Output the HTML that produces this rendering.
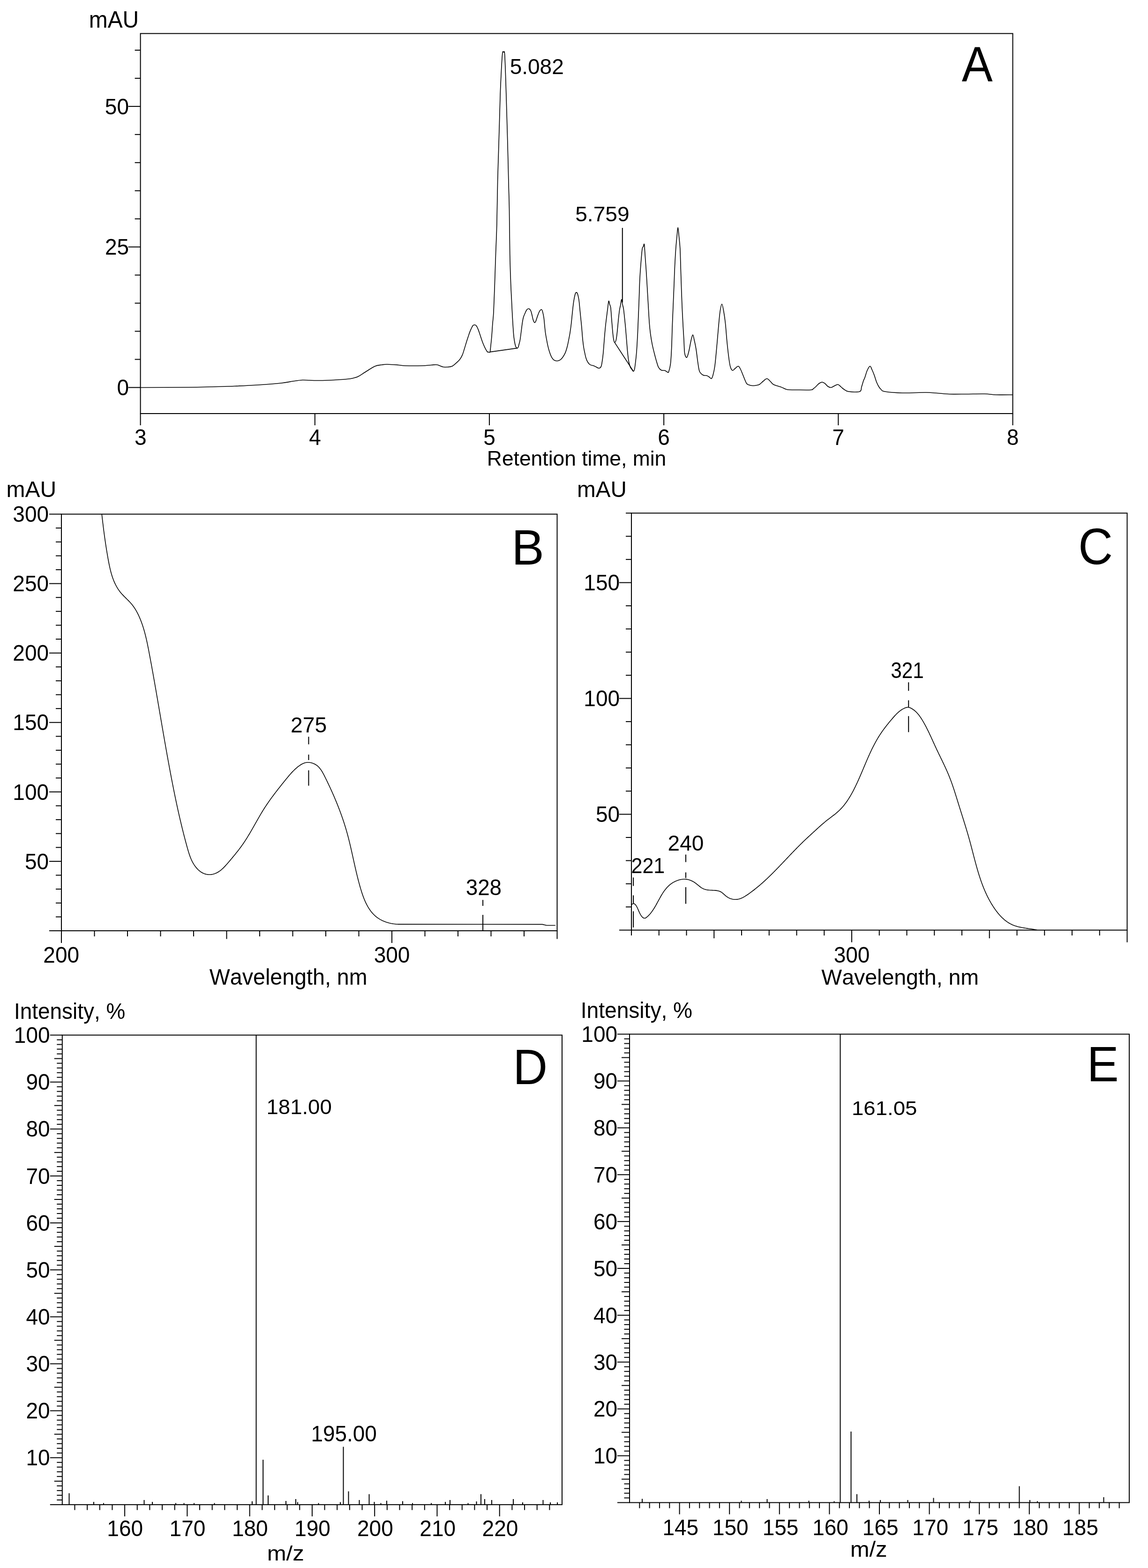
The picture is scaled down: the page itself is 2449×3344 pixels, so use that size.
<!DOCTYPE html>
<html><head><meta charset="utf-8"><title>Chromatogram, UV and MS spectra</title>
<style>html,body{margin:0;padding:0;background:#fff;}svg{display:block;}svg text{font-kerning:none;font-feature-settings:'kern' 0;}</style></head>
<body>
<svg width="2449" height="3344" viewBox="0 0 2449 3344" font-family="'Liberation Sans', Arial, sans-serif" fill="#000">
<rect width="2449" height="3344" fill="#fff"/>
<rect x="299.60" y="71.50" width="1860.90" height="810.50" fill="none" stroke="#000" stroke-width="2.0"/>
<line x1="273.60" y1="826.40" x2="299.60" y2="826.40" stroke="#000" stroke-width="2.0"/>
<line x1="287.60" y1="766.45" x2="299.60" y2="766.45" stroke="#000" stroke-width="2.0"/>
<line x1="287.60" y1="706.50" x2="299.60" y2="706.50" stroke="#000" stroke-width="2.0"/>
<line x1="287.60" y1="646.55" x2="299.60" y2="646.55" stroke="#000" stroke-width="2.0"/>
<line x1="287.60" y1="586.60" x2="299.60" y2="586.60" stroke="#000" stroke-width="2.0"/>
<line x1="273.60" y1="526.65" x2="299.60" y2="526.65" stroke="#000" stroke-width="2.0"/>
<line x1="287.60" y1="466.70" x2="299.60" y2="466.70" stroke="#000" stroke-width="2.0"/>
<line x1="287.60" y1="406.75" x2="299.60" y2="406.75" stroke="#000" stroke-width="2.0"/>
<line x1="287.60" y1="346.80" x2="299.60" y2="346.80" stroke="#000" stroke-width="2.0"/>
<line x1="287.60" y1="286.85" x2="299.60" y2="286.85" stroke="#000" stroke-width="2.0"/>
<line x1="273.60" y1="226.90" x2="299.60" y2="226.90" stroke="#000" stroke-width="2.0"/>
<line x1="287.60" y1="166.95" x2="299.60" y2="166.95" stroke="#000" stroke-width="2.0"/>
<line x1="287.60" y1="107.00" x2="299.60" y2="107.00" stroke="#000" stroke-width="2.0"/>
<text transform="translate(249.41,843.10) scale(1,1.0400)" font-size="46.00">0</text>
<text transform="translate(223.97,543.35) scale(1,1.0400)" font-size="46.00">25</text>
<text transform="translate(223.83,243.60) scale(1,1.0400)" font-size="46.00">50</text>
<line x1="299.60" y1="882.00" x2="299.60" y2="907.00" stroke="#000" stroke-width="2.0"/>
<text transform="translate(286.94,949.39) scale(1,1.0400)" font-size="46.00">3</text>
<line x1="671.78" y1="882.00" x2="671.78" y2="907.00" stroke="#000" stroke-width="2.0"/>
<text transform="translate(659.13,949.39) scale(1,1.0400)" font-size="46.00">4</text>
<line x1="1043.96" y1="882.00" x2="1043.96" y2="907.00" stroke="#000" stroke-width="2.0"/>
<text transform="translate(1031.21,949.39) scale(1,1.0400)" font-size="46.00">5</text>
<line x1="1416.14" y1="882.00" x2="1416.14" y2="907.00" stroke="#000" stroke-width="2.0"/>
<text transform="translate(1403.19,949.39) scale(1,1.0400)" font-size="46.00">6</text>
<line x1="1788.32" y1="882.00" x2="1788.32" y2="907.00" stroke="#000" stroke-width="2.0"/>
<text transform="translate(1775.51,949.39) scale(1,1.0400)" font-size="46.00">7</text>
<line x1="2160.50" y1="882.00" x2="2160.50" y2="907.00" stroke="#000" stroke-width="2.0"/>
<text transform="translate(2147.71,949.39) scale(1,1.0400)" font-size="46.00">8</text>
<text transform="translate(189.82,58.50) scale(1,1.0400)" font-size="47.87">mAU</text>
<text transform="translate(1038.86,992.50) scale(1,1.0066)" font-size="44.40">Retention time, min</text>
<text transform="translate(2051.81,172.50) scale(1,1.0741)" font-size="98.78">A</text>
<text transform="translate(1087.66,158.00) scale(1,1.0118)" font-size="46.02">5.082</text>
<text transform="translate(1227.15,471.50) scale(1,0.9620)" font-size="46.17">5.759</text>
<path d="M300.60,826.50 C317.17,826.42 375.10,826.25 400.00,826.00 C424.90,825.75 433.33,825.42 450.00,825.00 C466.67,824.58 483.33,824.17 500.00,823.50 C516.67,822.83 533.33,822.08 550.00,821.00 C566.67,819.92 587.50,818.33 600.00,817.00 C612.50,815.67 617.50,814.08 625.00,813.00 C632.50,811.92 639.17,810.83 645.00,810.50 C650.83,810.17 655.00,810.83 660.00,811.00 C665.00,811.17 668.33,811.50 675.00,811.50 C681.67,811.50 689.17,811.50 700.00,811.00 C710.83,810.50 730.83,809.33 740.00,808.50 C749.17,807.67 750.83,807.00 755.00,806.00 C759.17,805.00 760.83,804.67 765.00,802.50 C769.17,800.33 774.17,796.58 780.00,793.00 C785.83,789.42 794.17,783.50 800.00,781.00 C805.83,778.50 810.67,778.67 815.00,778.00 C819.33,777.33 820.17,776.92 826.00,777.00 C831.83,777.08 843.50,778.00 850.00,778.50 C856.50,779.00 856.67,779.75 865.00,780.00 C873.33,780.25 890.83,780.25 900.00,780.00 C909.17,779.75 914.58,778.83 920.00,778.50 C925.42,778.17 928.33,777.33 932.50,778.00 C936.67,778.67 941.33,781.72 945.00,782.50 C948.67,783.28 951.33,782.90 954.50,782.70 C957.67,782.50 960.97,782.63 964.00,781.30 C967.03,779.97 969.92,777.12 972.70,774.70 C975.48,772.28 978.40,769.82 980.70,766.80 C983.00,763.78 984.82,760.48 986.50,756.60 C988.18,752.72 989.35,748.10 990.80,743.50 C992.25,738.90 993.87,733.23 995.20,729.00 C996.53,724.77 997.72,721.37 998.80,718.10 C999.88,714.83 1000.60,712.30 1001.70,709.40 C1002.80,706.50 1004.18,703.25 1005.40,700.70 C1006.62,698.15 1007.80,695.42 1009.00,694.10 C1010.20,692.78 1011.38,692.67 1012.60,692.80 C1013.82,692.93 1015.08,693.35 1016.30,694.90 C1017.52,696.45 1018.70,699.20 1019.90,702.10 C1021.10,705.00 1022.30,708.78 1023.50,712.30 C1024.70,715.82 1025.88,719.70 1027.10,723.20 C1028.32,726.70 1029.58,730.28 1030.80,733.30 C1032.02,736.32 1033.20,738.87 1034.40,741.30 C1035.60,743.73 1037.02,746.32 1038.00,747.90 C1038.98,749.48 1039.47,750.28 1040.30,750.80 C1041.13,751.32 1042.17,751.03 1043.00,751.00 C1043.83,750.97 1044.65,752.85 1045.30,750.60 C1045.95,748.35 1046.30,742.97 1046.90,737.50 C1047.50,732.03 1048.23,725.72 1048.90,717.80 C1049.57,709.88 1050.22,698.72 1050.90,690.00 C1051.58,681.28 1052.25,679.83 1053.00,665.50 C1053.75,651.17 1054.65,624.58 1055.40,604.00 C1056.15,583.42 1056.77,562.67 1057.50,542.00 C1058.23,521.33 1059.12,506.00 1059.80,480.00 C1060.48,454.00 1060.98,412.00 1061.60,386.00 C1062.22,360.00 1062.87,344.67 1063.50,324.00 C1064.13,303.33 1064.78,282.67 1065.40,262.00 C1066.02,241.33 1066.52,218.67 1067.20,200.00 C1067.88,181.33 1068.82,163.33 1069.50,150.00 C1070.18,136.67 1070.80,126.58 1071.30,120.00 C1071.80,113.42 1071.97,111.92 1072.50,110.50 C1073.03,109.08 1073.83,110.92 1074.50,111.50 C1075.17,112.08 1075.83,105.92 1076.50,114.00 C1077.17,122.08 1077.77,139.50 1078.50,160.00 C1079.23,180.50 1080.20,213.83 1080.90,237.00 C1081.60,260.17 1082.18,280.33 1082.70,299.00 C1083.22,317.67 1083.58,332.42 1084.00,349.00 C1084.42,365.58 1084.78,382.00 1085.20,398.50 C1085.62,415.00 1086.08,424.08 1086.50,448.00 C1086.92,471.92 1087.18,516.00 1087.70,542.00 C1088.22,568.00 1088.98,587.50 1089.60,604.00 C1090.22,620.50 1090.80,628.95 1091.40,641.00 C1092.00,653.05 1092.50,664.37 1093.20,676.30 C1093.90,688.23 1094.88,704.07 1095.60,712.60 C1096.32,721.13 1096.80,723.28 1097.50,727.50 C1098.20,731.72 1099.05,735.52 1099.80,737.90 C1100.55,740.28 1101.37,741.02 1102.00,741.80 C1102.63,742.58 1103.02,742.82 1103.60,742.60 C1104.18,742.38 1104.85,742.10 1105.50,740.50 C1106.15,738.90 1106.83,735.63 1107.50,733.00 C1108.17,730.37 1108.75,729.20 1109.50,724.70 C1110.25,720.20 1111.20,712.05 1112.00,706.00 C1112.80,699.95 1113.55,693.23 1114.30,688.40 C1115.05,683.57 1115.63,680.18 1116.50,677.00 C1117.37,673.82 1118.30,672.00 1119.50,669.30 C1120.70,666.60 1122.28,662.63 1123.70,660.80 C1125.12,658.97 1126.58,658.02 1128.00,658.30 C1129.42,658.58 1131.08,660.38 1132.20,662.50 C1133.32,664.62 1133.85,667.75 1134.70,671.00 C1135.55,674.25 1136.37,679.17 1137.30,682.00 C1138.23,684.83 1139.32,687.57 1140.30,688.00 C1141.28,688.43 1142.15,686.87 1143.20,684.60 C1144.25,682.33 1145.33,677.80 1146.60,674.40 C1147.87,671.00 1149.38,666.60 1150.80,664.20 C1152.22,661.80 1153.97,659.85 1155.10,660.00 C1156.23,660.15 1156.75,662.13 1157.60,665.10 C1158.45,668.07 1159.48,672.87 1160.20,677.80 C1160.92,682.73 1161.33,689.33 1161.90,694.70 C1162.47,700.07 1162.90,705.05 1163.60,710.00 C1164.30,714.95 1165.27,719.88 1166.10,724.40 C1166.93,728.92 1167.62,732.87 1168.60,737.10 C1169.58,741.33 1170.72,745.85 1172.00,749.80 C1173.28,753.75 1174.73,757.83 1176.30,760.80 C1177.87,763.77 1179.43,766.12 1181.40,767.60 C1183.37,769.08 1185.85,769.70 1188.10,769.70 C1190.35,769.70 1192.92,768.80 1194.90,767.60 C1196.88,766.40 1198.17,765.03 1200.00,762.50 C1201.83,759.97 1204.20,756.35 1205.90,752.40 C1207.60,748.45 1208.92,743.75 1210.20,738.80 C1211.48,733.85 1212.62,727.63 1213.60,722.70 C1214.58,717.77 1215.27,714.57 1216.10,709.20 C1216.93,703.83 1217.75,697.85 1218.60,690.50 C1219.45,683.15 1220.35,672.87 1221.20,665.10 C1222.05,657.33 1222.72,650.27 1223.70,643.90 C1224.68,637.53 1226.10,630.28 1227.10,626.90 C1228.10,623.52 1228.85,623.60 1229.70,623.60 C1230.55,623.60 1231.32,624.17 1232.20,626.90 C1233.08,629.63 1234.25,635.10 1235.00,640.00 C1235.75,644.90 1236.07,650.07 1236.70,656.30 C1237.33,662.53 1238.10,670.38 1238.80,677.40 C1239.50,684.42 1240.20,690.68 1240.90,698.40 C1241.60,706.12 1242.30,716.68 1243.00,723.70 C1243.70,730.72 1244.33,735.58 1245.10,740.50 C1245.87,745.42 1246.75,749.27 1247.60,753.20 C1248.45,757.13 1249.22,761.02 1250.20,764.10 C1251.18,767.18 1252.10,769.45 1253.50,771.70 C1254.90,773.95 1256.07,776.07 1258.60,777.60 C1261.13,779.13 1265.62,779.63 1268.70,780.90 C1271.78,782.17 1274.85,785.05 1277.10,785.20 C1279.35,785.35 1280.93,784.33 1282.20,781.80 C1283.47,779.27 1283.93,774.77 1284.70,770.00 C1285.47,765.23 1286.17,759.52 1286.80,753.20 C1287.43,746.88 1287.93,739.12 1288.50,732.10 C1289.07,725.08 1289.57,718.12 1290.20,711.10 C1290.83,704.08 1291.60,696.32 1292.30,690.00 C1293.00,683.68 1293.70,678.82 1294.40,673.20 C1295.10,667.58 1295.80,661.50 1296.50,656.30 C1297.20,651.10 1297.90,643.12 1298.60,642.00 C1299.30,640.88 1300.00,647.22 1300.70,649.60 C1301.40,651.98 1302.17,651.67 1302.80,656.30 C1303.43,660.93 1303.93,670.38 1304.50,677.40 C1305.07,684.42 1305.65,692.08 1306.20,698.40 C1306.75,704.72 1307.25,710.67 1307.80,715.30 C1308.35,719.93 1308.93,723.68 1309.50,726.20 C1310.07,728.72 1310.42,730.53 1311.20,730.40 C1311.98,730.27 1313.35,728.62 1314.20,725.40 C1315.05,722.18 1315.67,716.30 1316.30,711.10 C1316.93,705.90 1317.45,699.82 1318.00,694.20 C1318.55,688.58 1318.98,683.02 1319.60,677.40 C1320.22,671.78 1321.00,665.00 1321.70,660.50 C1322.40,656.00 1323.10,654.05 1323.80,650.40 C1324.50,646.75 1325.18,638.73 1325.90,638.60 C1326.62,638.47 1327.38,646.23 1328.10,649.60 C1328.82,652.97 1329.50,654.17 1330.20,658.80 C1330.90,663.43 1331.60,670.80 1332.30,677.40 C1333.00,684.00 1333.70,690.68 1334.40,698.40 C1335.10,706.12 1335.80,715.28 1336.50,723.70 C1337.20,732.12 1337.83,741.18 1338.60,748.90 C1339.37,756.62 1340.12,764.38 1341.10,770.00 C1342.08,775.62 1343.38,779.65 1344.50,782.60 C1345.62,785.55 1346.68,786.15 1347.80,787.70 C1348.92,789.25 1350.22,792.05 1351.20,791.90 C1352.18,791.75 1352.90,790.45 1353.70,786.80 C1354.50,783.15 1355.27,776.33 1356.00,770.00 C1356.73,763.67 1357.38,758.62 1358.10,748.80 C1358.82,738.98 1359.67,723.67 1360.30,711.10 C1360.93,698.53 1361.38,685.95 1361.90,673.40 C1362.42,660.85 1362.98,647.10 1363.40,635.80 C1363.82,624.50 1364.03,614.40 1364.40,605.60 C1364.77,596.80 1365.02,591.78 1365.60,583.00 C1366.18,574.22 1367.15,561.68 1367.90,552.90 C1368.65,544.12 1369.35,534.82 1370.10,530.30 C1370.85,525.78 1371.68,527.32 1372.40,525.80 C1373.12,524.28 1373.77,517.95 1374.40,521.20 C1375.03,524.45 1375.53,536.25 1376.20,545.30 C1376.87,554.35 1377.65,564.18 1378.40,575.50 C1379.15,586.82 1379.95,600.65 1380.70,613.20 C1381.45,625.75 1382.15,638.25 1382.90,650.80 C1383.65,663.35 1384.43,678.45 1385.20,688.50 C1385.97,698.55 1386.50,703.57 1387.50,711.10 C1388.50,718.63 1389.82,726.67 1391.20,733.70 C1392.58,740.73 1394.28,747.27 1395.80,753.30 C1397.32,759.33 1398.80,764.88 1400.30,769.90 C1401.80,774.92 1403.05,780.13 1404.80,783.40 C1406.55,786.67 1408.53,788.37 1410.80,789.50 C1413.07,790.63 1416.13,789.45 1418.40,790.20 C1420.67,790.95 1423.03,793.62 1424.40,794.00 C1425.77,794.38 1425.60,795.52 1426.60,792.50 C1427.60,789.48 1429.38,784.45 1430.40,775.90 C1431.42,767.35 1432.07,754.52 1432.70,741.20 C1433.33,727.88 1433.63,711.07 1434.20,696.00 C1434.77,680.93 1435.47,665.87 1436.10,650.80 C1436.73,635.73 1437.43,619.40 1438.00,605.60 C1438.57,591.80 1438.88,580.55 1439.50,568.00 C1440.12,555.45 1440.95,540.85 1441.70,530.30 C1442.45,519.75 1443.25,512.23 1444.00,504.70 C1444.75,497.17 1445.45,485.10 1446.20,485.10 C1446.95,485.10 1447.73,497.17 1448.50,504.70 C1449.27,512.23 1450.17,518.50 1450.80,530.30 C1451.43,542.10 1451.80,560.43 1452.30,575.50 C1452.80,590.57 1453.30,606.88 1453.80,620.70 C1454.30,634.52 1454.73,645.85 1455.30,658.40 C1455.87,670.95 1456.58,684.70 1457.20,696.00 C1457.82,707.30 1458.43,716.65 1459.00,726.20 C1459.57,735.75 1459.58,747.28 1460.60,753.30 C1461.62,759.32 1463.60,763.05 1465.10,762.30 C1466.60,761.55 1468.10,754.82 1469.60,748.80 C1471.10,742.78 1472.72,731.98 1474.10,726.20 C1475.48,720.42 1476.75,714.30 1477.90,714.10 C1479.05,713.90 1479.82,719.85 1481.00,725.00 C1482.18,730.15 1483.67,736.67 1485.00,745.00 C1486.33,753.33 1487.75,767.08 1489.00,775.00 C1490.25,782.92 1490.67,788.33 1492.50,792.50 C1494.33,796.67 1497.50,798.58 1500.00,800.00 C1502.50,801.42 1505.33,800.33 1507.50,801.00 C1509.67,801.67 1511.33,802.92 1513.00,804.00 C1514.67,805.08 1516.17,808.17 1517.50,807.50 C1518.83,806.83 1519.75,804.58 1521.00,800.00 C1522.25,795.42 1523.67,790.00 1525.00,780.00 C1526.33,770.00 1527.75,753.33 1529.00,740.00 C1530.25,726.67 1531.33,712.50 1532.50,700.00 C1533.67,687.50 1534.75,673.58 1536.00,665.00 C1537.25,656.42 1538.67,648.50 1540.00,648.50 C1541.33,648.50 1542.75,658.08 1544.00,665.00 C1545.25,671.92 1546.33,679.17 1547.50,690.00 C1548.67,700.83 1549.75,717.50 1551.00,730.00 C1552.25,742.50 1553.83,756.33 1555.00,765.00 C1556.17,773.67 1556.75,777.83 1558.00,782.00 C1559.25,786.17 1560.83,789.33 1562.50,790.00 C1564.17,790.67 1565.92,787.50 1568.00,786.00 C1570.08,784.50 1573.00,780.67 1575.00,781.00 C1577.00,781.33 1578.33,784.83 1580.00,788.00 C1581.67,791.17 1582.92,795.08 1585.00,800.00 C1587.08,804.92 1590.33,814.00 1592.50,817.50 C1594.67,821.00 1595.92,820.17 1598.00,821.00 C1600.08,821.83 1602.67,822.33 1605.00,822.50 C1607.33,822.67 1609.50,822.42 1612.00,822.00 C1614.50,821.58 1617.33,821.50 1620.00,820.00 C1622.67,818.50 1625.33,815.08 1628.00,813.00 C1630.67,810.92 1633.50,807.50 1636.00,807.50 C1638.50,807.50 1640.67,810.92 1643.00,813.00 C1645.33,815.08 1646.33,818.00 1650.00,820.00 C1653.67,822.00 1661.33,823.67 1665.00,825.00 C1668.67,826.33 1669.50,827.00 1672.00,828.00 C1674.50,829.00 1675.33,830.42 1680.00,831.00 C1684.67,831.58 1691.67,831.42 1700.00,831.50 C1708.33,831.58 1724.17,831.92 1730.00,831.50 C1735.83,831.08 1733.33,830.08 1735.00,829.00 C1736.67,827.92 1738.00,826.83 1740.00,825.00 C1742.00,823.17 1744.67,819.67 1747.00,818.00 C1749.33,816.33 1751.83,815.00 1754.00,815.00 C1756.17,815.00 1758.00,816.50 1760.00,818.00 C1762.00,819.50 1763.92,822.58 1766.00,824.00 C1768.08,825.42 1770.17,826.67 1772.50,826.50 C1774.83,826.33 1777.50,824.08 1780.00,823.00 C1782.50,821.92 1785.17,819.67 1787.50,820.00 C1789.83,820.33 1791.92,823.33 1794.00,825.00 C1796.08,826.67 1797.33,828.33 1800.00,830.00 C1802.67,831.67 1804.33,834.17 1810.00,835.00 C1815.67,835.83 1829.33,836.67 1834.00,835.00 C1838.67,833.33 1836.67,828.83 1838.00,825.00 C1839.33,821.17 1840.83,815.33 1842.00,812.00 C1843.17,808.67 1843.67,808.67 1845.00,805.00 C1846.33,801.33 1848.17,794.00 1850.00,790.00 C1851.83,786.00 1854.33,781.33 1856.00,781.00 C1857.67,780.67 1858.50,784.83 1860.00,788.00 C1861.50,791.17 1863.33,795.50 1865.00,800.00 C1866.67,804.50 1868.33,810.83 1870.00,815.00 C1871.67,819.17 1873.33,822.33 1875.00,825.00 C1876.67,827.67 1877.92,829.33 1880.00,831.00 C1882.08,832.67 1880.00,833.83 1887.50,835.00 C1895.00,836.17 1910.42,837.67 1925.00,838.00 C1939.58,838.33 1962.50,836.92 1975.00,837.00 C1987.50,837.08 1991.67,837.92 2000.00,838.50 C2008.33,839.08 2015.00,840.17 2025.00,840.50 C2035.00,840.83 2047.50,840.58 2060.00,840.50 C2072.50,840.42 2089.17,839.75 2100.00,840.00 C2110.83,840.25 2115.08,841.67 2125.00,842.00 C2134.92,842.33 2153.75,842.00 2159.50,842.00" fill="none" stroke="#000" stroke-width="1.6" stroke-linejoin="round" stroke-linecap="round"/>
<line x1="1045.50" y1="750.60" x2="1103.80" y2="742.40" stroke="#000" stroke-width="1.7"/>
<line x1="1311.20" y1="730.40" x2="1351.20" y2="791.90" stroke="#000" stroke-width="1.7"/>
<line x1="1327.80" y1="486.00" x2="1327.80" y2="645.00" stroke="#000" stroke-width="2.0"/>
<rect x="131.00" y="1096.50" width="1057.50" height="888.50" fill="none" stroke="#000" stroke-width="2.0"/>
<line x1="105.00" y1="1985.00" x2="131.00" y2="1985.00" stroke="#000" stroke-width="2.0"/>
<line x1="119.00" y1="1955.38" x2="131.00" y2="1955.38" stroke="#000" stroke-width="2.0"/>
<line x1="119.00" y1="1925.77" x2="131.00" y2="1925.77" stroke="#000" stroke-width="2.0"/>
<line x1="119.00" y1="1896.15" x2="131.00" y2="1896.15" stroke="#000" stroke-width="2.0"/>
<line x1="119.00" y1="1866.53" x2="131.00" y2="1866.53" stroke="#000" stroke-width="2.0"/>
<line x1="105.00" y1="1836.92" x2="131.00" y2="1836.92" stroke="#000" stroke-width="2.0"/>
<line x1="119.00" y1="1807.30" x2="131.00" y2="1807.30" stroke="#000" stroke-width="2.0"/>
<line x1="119.00" y1="1777.68" x2="131.00" y2="1777.68" stroke="#000" stroke-width="2.0"/>
<line x1="119.00" y1="1748.07" x2="131.00" y2="1748.07" stroke="#000" stroke-width="2.0"/>
<line x1="119.00" y1="1718.45" x2="131.00" y2="1718.45" stroke="#000" stroke-width="2.0"/>
<line x1="105.00" y1="1688.83" x2="131.00" y2="1688.83" stroke="#000" stroke-width="2.0"/>
<line x1="119.00" y1="1659.22" x2="131.00" y2="1659.22" stroke="#000" stroke-width="2.0"/>
<line x1="119.00" y1="1629.60" x2="131.00" y2="1629.60" stroke="#000" stroke-width="2.0"/>
<line x1="119.00" y1="1599.98" x2="131.00" y2="1599.98" stroke="#000" stroke-width="2.0"/>
<line x1="119.00" y1="1570.37" x2="131.00" y2="1570.37" stroke="#000" stroke-width="2.0"/>
<line x1="105.00" y1="1540.75" x2="131.00" y2="1540.75" stroke="#000" stroke-width="2.0"/>
<line x1="119.00" y1="1511.13" x2="131.00" y2="1511.13" stroke="#000" stroke-width="2.0"/>
<line x1="119.00" y1="1481.52" x2="131.00" y2="1481.52" stroke="#000" stroke-width="2.0"/>
<line x1="119.00" y1="1451.90" x2="131.00" y2="1451.90" stroke="#000" stroke-width="2.0"/>
<line x1="119.00" y1="1422.28" x2="131.00" y2="1422.28" stroke="#000" stroke-width="2.0"/>
<line x1="105.00" y1="1392.67" x2="131.00" y2="1392.67" stroke="#000" stroke-width="2.0"/>
<line x1="119.00" y1="1363.05" x2="131.00" y2="1363.05" stroke="#000" stroke-width="2.0"/>
<line x1="119.00" y1="1333.43" x2="131.00" y2="1333.43" stroke="#000" stroke-width="2.0"/>
<line x1="119.00" y1="1303.82" x2="131.00" y2="1303.82" stroke="#000" stroke-width="2.0"/>
<line x1="119.00" y1="1274.20" x2="131.00" y2="1274.20" stroke="#000" stroke-width="2.0"/>
<line x1="105.00" y1="1244.58" x2="131.00" y2="1244.58" stroke="#000" stroke-width="2.0"/>
<line x1="119.00" y1="1214.97" x2="131.00" y2="1214.97" stroke="#000" stroke-width="2.0"/>
<line x1="119.00" y1="1185.35" x2="131.00" y2="1185.35" stroke="#000" stroke-width="2.0"/>
<line x1="119.00" y1="1155.73" x2="131.00" y2="1155.73" stroke="#000" stroke-width="2.0"/>
<line x1="119.00" y1="1126.12" x2="131.00" y2="1126.12" stroke="#000" stroke-width="2.0"/>
<line x1="105.00" y1="1096.50" x2="131.00" y2="1096.50" stroke="#000" stroke-width="2.0"/>
<text transform="translate(52.93,1853.61) scale(1,1.0400)" font-size="46.00">50</text>
<text transform="translate(27.35,1705.53) scale(1,1.0400)" font-size="46.00">100</text>
<text transform="translate(27.35,1557.45) scale(1,1.0400)" font-size="46.00">150</text>
<text transform="translate(27.35,1409.36) scale(1,1.0400)" font-size="46.00">200</text>
<text transform="translate(27.35,1261.28) scale(1,1.0400)" font-size="46.00">250</text>
<text transform="translate(27.35,1113.20) scale(1,1.0400)" font-size="46.00">300</text>
<line x1="131.00" y1="1985.00" x2="131.00" y2="2011.00" stroke="#000" stroke-width="2.0"/>
<line x1="201.50" y1="1985.00" x2="201.50" y2="1997.00" stroke="#000" stroke-width="2.0"/>
<line x1="272.00" y1="1985.00" x2="272.00" y2="1997.00" stroke="#000" stroke-width="2.0"/>
<line x1="342.50" y1="1985.00" x2="342.50" y2="1997.00" stroke="#000" stroke-width="2.0"/>
<line x1="413.00" y1="1985.00" x2="413.00" y2="1997.00" stroke="#000" stroke-width="2.0"/>
<line x1="483.50" y1="1985.00" x2="483.50" y2="2002.50" stroke="#000" stroke-width="2.0"/>
<line x1="554.00" y1="1985.00" x2="554.00" y2="1997.00" stroke="#000" stroke-width="2.0"/>
<line x1="624.50" y1="1985.00" x2="624.50" y2="1997.00" stroke="#000" stroke-width="2.0"/>
<line x1="695.00" y1="1985.00" x2="695.00" y2="1997.00" stroke="#000" stroke-width="2.0"/>
<line x1="765.50" y1="1985.00" x2="765.50" y2="1997.00" stroke="#000" stroke-width="2.0"/>
<line x1="836.00" y1="1985.00" x2="836.00" y2="2011.00" stroke="#000" stroke-width="2.0"/>
<line x1="906.50" y1="1985.00" x2="906.50" y2="1997.00" stroke="#000" stroke-width="2.0"/>
<line x1="977.00" y1="1985.00" x2="977.00" y2="1997.00" stroke="#000" stroke-width="2.0"/>
<line x1="1047.50" y1="1985.00" x2="1047.50" y2="1997.00" stroke="#000" stroke-width="2.0"/>
<line x1="1118.00" y1="1985.00" x2="1118.00" y2="1997.00" stroke="#000" stroke-width="2.0"/>
<line x1="1188.50" y1="1985.00" x2="1188.50" y2="2002.50" stroke="#000" stroke-width="2.0"/>
<text transform="translate(92.37,2053.39) scale(1,1.0400)" font-size="46.00">200</text>
<text transform="translate(797.65,2053.39) scale(1,1.0400)" font-size="46.00">300</text>
<text x="13.56" y="1059.75" font-size="47.99">mAU</text>
<text transform="translate(446.80,2099.50) scale(1,1.0447)" font-size="46.61">Wavelength, nm</text>
<text transform="translate(1091.15,1203.50) scale(1,1.0161)" font-size="104.28">B</text>
<text transform="translate(620.08,1562.20) scale(1,1.0143)" font-size="46.19">275</text>
<text transform="translate(993.66,1908.70) scale(1,1.0414)" font-size="45.81">328</text>
<path d="M217.24,1097.09 L217.47,1099.12 L217.70,1101.14 L217.93,1103.16 L218.16,1105.18 L218.39,1107.19 L218.63,1109.20 L218.86,1111.21 L219.10,1113.21 L219.33,1115.21 L219.57,1117.20 L219.82,1119.19 L220.06,1121.18 L220.30,1123.16 L220.55,1125.14 L220.80,1127.12 L221.05,1129.10 L221.30,1131.07 L221.56,1133.05 L221.81,1135.02 L222.07,1136.98 L222.34,1138.95 L222.60,1140.92 L222.87,1142.88 L223.14,1144.84 L223.41,1146.81 L223.69,1148.77 L223.96,1150.73 L224.25,1152.69 L224.53,1154.65 L224.82,1156.61 L225.11,1158.56 L225.40,1160.52 L225.70,1162.48 L226.00,1164.44 L226.31,1166.41 L226.61,1168.37 L226.93,1170.33 L227.24,1172.29 L227.56,1174.26 L227.88,1176.23 L228.21,1178.19 L228.54,1180.16 L228.88,1182.14 L229.21,1184.11 L229.56,1186.09 L229.91,1188.06 L230.26,1190.05 L230.61,1192.03 L230.98,1194.02 L231.34,1196.01 L231.72,1198.00 L232.10,1199.99 L232.49,1201.98 L232.89,1203.97 L233.30,1205.95 L233.72,1207.94 L234.15,1209.92 L234.60,1211.90 L235.06,1213.87 L235.54,1215.84 L236.03,1217.80 L236.54,1219.76 L237.07,1221.70 L237.62,1223.64 L238.19,1225.57 L238.78,1227.49 L239.39,1229.40 L240.02,1231.30 L240.68,1233.18 L241.37,1235.06 L242.08,1236.92 L242.81,1238.76 L243.58,1240.59 L244.37,1242.40 L245.20,1244.20 L246.05,1245.98 L246.94,1247.74 L247.86,1249.48 L248.81,1251.20 L249.80,1252.90 L250.82,1254.58 L251.88,1256.24 L252.98,1257.88 L254.12,1259.49 L255.30,1261.08 L256.51,1262.64 L257.77,1264.18 L259.07,1265.70 L260.40,1267.19 L261.76,1268.66 L263.15,1270.12 L264.56,1271.57 L265.98,1273.01 L267.41,1274.44 L268.85,1275.87 L270.29,1277.30 L271.73,1278.73 L273.17,1280.16 L274.59,1281.61 L275.99,1283.07 L277.37,1284.54 L278.73,1286.02 L280.05,1287.53 L281.34,1289.06 L282.59,1290.62 L283.81,1292.20 L284.98,1293.81 L286.12,1295.44 L287.23,1297.08 L288.30,1298.75 L289.34,1300.44 L290.35,1302.15 L291.33,1303.88 L292.28,1305.62 L293.21,1307.37 L294.10,1309.14 L294.98,1310.92 L295.82,1312.71 L296.65,1314.52 L297.46,1316.33 L298.24,1318.15 L299.00,1319.98 L299.75,1321.81 L300.48,1323.66 L301.19,1325.50 L301.88,1327.36 L302.56,1329.22 L303.21,1331.09 L303.86,1332.97 L304.48,1334.85 L305.10,1336.73 L305.69,1338.62 L306.28,1340.52 L306.85,1342.42 L307.40,1344.33 L307.95,1346.24 L308.48,1348.16 L309.00,1350.08 L309.51,1352.00 L310.00,1353.93 L310.49,1355.86 L310.97,1357.80 L311.43,1359.74 L311.89,1361.68 L312.34,1363.63 L312.78,1365.58 L313.21,1367.53 L313.64,1369.49 L314.06,1371.44 L314.47,1373.40 L314.88,1375.36 L315.28,1377.33 L315.67,1379.29 L316.07,1381.26 L316.45,1383.22 L316.84,1385.19 L317.22,1387.16 L317.60,1389.13 L317.97,1391.10 L318.35,1393.07 L318.72,1395.04 L319.09,1397.02 L319.46,1398.99 L319.83,1400.96 L320.20,1402.93 L320.57,1404.90 L320.94,1406.87 L321.30,1408.84 L321.67,1410.82 L322.03,1412.79 L322.40,1414.76 L322.76,1416.73 L323.12,1418.70 L323.48,1420.67 L323.84,1422.65 L324.20,1424.62 L324.56,1426.59 L324.91,1428.56 L325.27,1430.53 L325.63,1432.51 L325.98,1434.48 L326.34,1436.45 L326.69,1438.42 L327.04,1440.39 L327.39,1442.37 L327.74,1444.34 L328.10,1446.31 L328.45,1448.28 L328.79,1450.26 L329.14,1452.23 L329.49,1454.20 L329.84,1456.17 L330.19,1458.14 L330.53,1460.12 L330.88,1462.09 L331.22,1464.06 L331.57,1466.03 L331.91,1468.01 L332.26,1469.98 L332.60,1471.95 L332.94,1473.92 L333.29,1475.89 L333.63,1477.87 L333.97,1479.84 L334.31,1481.81 L334.65,1483.78 L334.99,1485.75 L335.33,1487.73 L335.68,1489.70 L336.01,1491.67 L336.35,1493.64 L336.69,1495.61 L337.03,1497.58 L337.37,1499.56 L337.71,1501.53 L338.05,1503.50 L338.39,1505.47 L338.73,1507.44 L339.06,1509.41 L339.40,1511.38 L339.74,1513.36 L340.08,1515.33 L340.42,1517.30 L340.75,1519.27 L341.09,1521.24 L341.43,1523.21 L341.77,1525.18 L342.10,1527.15 L342.44,1529.12 L342.78,1531.09 L343.12,1533.06 L343.45,1535.03 L343.79,1537.00 L344.13,1538.97 L344.47,1540.94 L344.81,1542.91 L345.14,1544.88 L345.48,1546.85 L345.82,1548.82 L346.16,1550.79 L346.50,1552.76 L346.84,1554.73 L347.18,1556.70 L347.52,1558.67 L347.86,1560.64 L348.20,1562.61 L348.54,1564.57 L348.88,1566.54 L349.22,1568.51 L349.56,1570.48 L349.91,1572.45 L350.25,1574.42 L350.59,1576.38 L350.93,1578.35 L351.28,1580.32 L351.62,1582.28 L351.97,1584.25 L352.31,1586.22 L352.66,1588.19 L353.00,1590.15 L353.35,1592.12 L353.70,1594.08 L354.05,1596.05 L354.40,1598.02 L354.74,1599.98 L355.09,1601.95 L355.44,1603.91 L355.80,1605.88 L356.15,1607.84 L356.50,1609.81 L356.85,1611.77 L357.21,1613.74 L357.56,1615.70 L357.92,1617.66 L358.27,1619.63 L358.63,1621.59 L358.99,1623.56 L359.35,1625.52 L359.71,1627.48 L360.07,1629.44 L360.43,1631.41 L360.79,1633.37 L361.15,1635.33 L361.52,1637.29 L361.88,1639.25 L362.25,1641.22 L362.61,1643.18 L362.98,1645.14 L363.35,1647.10 L363.72,1649.06 L364.09,1651.02 L364.46,1652.98 L364.84,1654.94 L365.21,1656.90 L365.58,1658.86 L365.96,1660.82 L366.34,1662.77 L366.72,1664.73 L367.10,1666.69 L367.48,1668.65 L367.86,1670.61 L368.24,1672.56 L368.63,1674.52 L369.01,1676.48 L369.40,1678.43 L369.79,1680.39 L370.18,1682.35 L370.57,1684.30 L370.96,1686.26 L371.36,1688.22 L371.75,1690.17 L372.15,1692.13 L372.55,1694.08 L372.95,1696.04 L373.36,1697.99 L373.76,1699.95 L374.17,1701.90 L374.57,1703.86 L374.98,1705.81 L375.39,1707.77 L375.81,1709.72 L376.22,1711.67 L376.64,1713.63 L377.06,1715.58 L377.48,1717.54 L377.90,1719.49 L378.33,1721.44 L378.75,1723.40 L379.18,1725.35 L379.61,1727.30 L380.05,1729.26 L380.48,1731.21 L380.92,1733.16 L381.36,1735.12 L381.80,1737.07 L382.25,1739.02 L382.69,1740.98 L383.14,1742.93 L383.59,1744.88 L384.05,1746.83 L384.50,1748.79 L384.96,1750.74 L385.42,1752.69 L385.89,1754.65 L386.35,1756.60 L386.82,1758.55 L387.29,1760.50 L387.77,1762.46 L388.24,1764.41 L388.72,1766.36 L389.20,1768.32 L389.69,1770.27 L390.18,1772.22 L390.67,1774.18 L391.16,1776.13 L391.65,1778.08 L392.15,1780.04 L392.65,1781.99 L393.16,1783.94 L393.67,1785.90 L394.18,1787.85 L394.69,1789.81 L395.21,1791.76 L395.73,1793.71 L396.25,1795.67 L396.78,1797.62 L397.31,1799.58 L397.84,1801.53 L398.37,1803.49 L398.91,1805.44 L399.45,1807.40 L400.00,1809.35 L400.56,1811.30 L401.12,1813.25 L401.69,1815.19 L402.28,1817.13 L402.88,1819.06 L403.50,1820.98 L404.14,1822.88 L404.80,1824.78 L405.49,1826.66 L406.20,1828.52 L406.94,1830.37 L407.72,1832.20 L408.52,1834.01 L409.36,1835.79 L410.24,1837.56 L411.16,1839.30 L412.12,1841.01 L413.12,1842.69 L414.17,1844.35 L415.26,1845.97 L416.41,1847.56 L417.61,1849.12 L418.87,1850.65 L420.18,1852.13 L421.55,1853.58 L422.98,1854.99 L424.47,1856.35 L426.02,1857.65 L427.63,1858.88 L429.29,1860.02 L431.00,1861.08 L432.76,1862.02 L434.57,1862.85 L436.41,1863.55 L438.30,1864.12 L440.21,1864.58 L442.14,1864.92 L444.09,1865.14 L446.04,1865.24 L448.00,1865.22 L449.94,1865.10 L451.87,1864.86 L453.78,1864.52 L455.67,1864.06 L457.51,1863.51 L459.32,1862.84 L461.09,1862.09 L462.83,1861.24 L464.52,1860.30 L466.19,1859.28 L467.82,1858.19 L469.43,1857.03 L471.00,1855.80 L472.55,1854.52 L474.07,1853.18 L475.57,1851.79 L477.05,1850.36 L478.50,1848.89 L479.94,1847.38 L481.35,1845.86 L482.75,1844.31 L484.14,1842.74 L485.51,1841.17 L486.87,1839.58 L488.22,1838.00 L489.56,1836.43 L490.89,1834.86 L492.22,1833.29 L493.53,1831.74 L494.84,1830.18 L496.14,1828.63 L497.42,1827.09 L498.70,1825.54 L499.98,1824.00 L501.24,1822.46 L502.49,1820.92 L503.74,1819.37 L504.97,1817.83 L506.20,1816.29 L507.41,1814.74 L508.62,1813.18 L509.82,1811.63 L511.01,1810.07 L512.19,1808.50 L513.36,1806.92 L514.52,1805.34 L515.67,1803.75 L516.81,1802.15 L517.94,1800.55 L519.06,1798.93 L520.17,1797.30 L521.27,1795.66 L522.36,1794.01 L523.45,1792.35 L524.52,1790.68 L525.59,1789.00 L526.65,1787.32 L527.70,1785.62 L528.75,1783.92 L529.78,1782.21 L530.82,1780.49 L531.85,1778.77 L532.87,1777.04 L533.89,1775.31 L534.90,1773.58 L535.91,1771.83 L536.91,1770.09 L537.92,1768.34 L538.92,1766.59 L539.92,1764.84 L540.91,1763.08 L541.91,1761.32 L542.90,1759.57 L543.89,1757.81 L544.89,1756.05 L545.88,1754.30 L546.87,1752.54 L547.87,1750.78 L548.86,1749.03 L549.86,1747.28 L550.86,1745.53 L551.86,1743.79 L552.87,1742.05 L553.88,1740.31 L554.89,1738.58 L555.91,1736.86 L556.93,1735.14 L557.96,1733.42 L558.99,1731.72 L560.03,1730.02 L561.07,1728.32 L562.12,1726.64 L563.18,1724.96 L564.25,1723.30 L565.32,1721.64 L566.40,1719.99 L567.49,1718.34 L568.58,1716.70 L569.68,1715.07 L570.79,1713.45 L571.90,1711.83 L573.02,1710.22 L574.15,1708.61 L575.28,1707.01 L576.42,1705.41 L577.57,1703.82 L578.72,1702.23 L579.88,1700.64 L581.05,1699.06 L582.22,1697.48 L583.39,1695.91 L584.58,1694.33 L585.77,1692.76 L586.96,1691.19 L588.16,1689.62 L589.37,1688.05 L590.58,1686.49 L591.80,1684.92 L593.02,1683.35 L594.25,1681.79 L595.49,1680.22 L596.73,1678.65 L597.97,1677.08 L599.22,1675.51 L600.48,1673.93 L601.74,1672.36 L603.00,1670.78 L604.27,1669.20 L605.55,1667.61 L606.83,1666.02 L608.11,1664.43 L609.40,1662.83 L610.70,1661.24 L612.00,1659.64 L613.31,1658.04 L614.63,1656.45 L615.96,1654.87 L617.30,1653.30 L618.66,1651.74 L620.02,1650.19 L621.40,1648.66 L622.80,1647.15 L624.21,1645.65 L625.64,1644.19 L627.09,1642.74 L628.56,1641.33 L630.04,1639.94 L631.55,1638.59 L633.09,1637.27 L634.64,1635.98 L636.22,1634.74 L637.83,1633.53 L639.46,1632.37 L641.12,1631.26 L642.81,1630.22 L644.53,1629.26 L646.28,1628.39 L648.05,1627.64 L649.86,1627.03 L651.69,1626.55 L653.55,1626.21 L655.42,1626.02 L657.31,1625.95 L659.19,1626.02 L661.08,1626.21 L662.95,1626.53 L664.80,1626.96 L666.63,1627.51 L668.42,1628.16 L670.18,1628.93 L671.89,1629.79 L673.54,1630.76 L675.14,1631.82 L676.67,1632.97 L678.13,1634.20 L679.52,1635.52 L680.84,1636.91 L682.11,1638.38 L683.32,1639.90 L684.48,1641.49 L685.60,1643.12 L686.67,1644.80 L687.71,1646.53 L688.72,1648.28 L689.70,1650.07 L690.66,1651.88 L691.60,1653.70 L692.52,1655.54 L693.44,1657.38 L694.35,1659.23 L695.26,1661.07 L696.16,1662.92 L697.06,1664.76 L697.95,1666.61 L698.84,1668.45 L699.72,1670.30 L700.60,1672.14 L701.47,1673.99 L702.34,1675.84 L703.20,1677.68 L704.06,1679.53 L704.91,1681.38 L705.76,1683.23 L706.61,1685.08 L707.44,1686.93 L708.27,1688.78 L709.10,1690.63 L709.92,1692.48 L710.74,1694.34 L711.55,1696.19 L712.35,1698.04 L713.15,1699.90 L713.94,1701.75 L714.73,1703.61 L715.51,1705.47 L716.29,1707.32 L717.06,1709.18 L717.83,1711.04 L718.59,1712.90 L719.34,1714.77 L720.08,1716.63 L720.83,1718.49 L721.56,1720.36 L722.29,1722.22 L723.01,1724.09 L723.73,1725.95 L724.44,1727.82 L725.14,1729.69 L725.84,1731.56 L726.53,1733.44 L727.21,1735.31 L727.89,1737.18 L728.56,1739.06 L729.23,1740.93 L729.89,1742.81 L730.54,1744.69 L731.18,1746.57 L731.82,1748.45 L732.45,1750.34 L733.08,1752.22 L733.70,1754.11 L734.31,1756.00 L734.91,1757.88 L735.51,1759.77 L736.10,1761.67 L736.68,1763.56 L737.26,1765.45 L737.83,1767.35 L738.39,1769.25 L738.94,1771.15 L739.49,1773.05 L740.03,1774.95 L740.56,1776.86 L741.08,1778.76 L741.60,1780.67 L742.11,1782.58 L742.62,1784.49 L743.12,1786.40 L743.61,1788.32 L744.09,1790.23 L744.58,1792.15 L745.05,1794.07 L745.52,1795.99 L745.99,1797.91 L746.45,1799.84 L746.91,1801.76 L747.37,1803.69 L747.82,1805.61 L748.27,1807.54 L748.71,1809.47 L749.15,1811.40 L749.59,1813.34 L750.03,1815.27 L750.47,1817.21 L750.90,1819.14 L751.33,1821.08 L751.76,1823.02 L752.19,1824.96 L752.62,1826.90 L753.05,1828.84 L753.48,1830.79 L753.91,1832.73 L754.34,1834.68 L754.77,1836.62 L755.21,1838.57 L755.64,1840.52 L756.08,1842.47 L756.51,1844.42 L756.95,1846.37 L757.39,1848.32 L757.84,1850.28 L758.28,1852.23 L758.73,1854.18 L759.19,1856.14 L759.64,1858.10 L760.10,1860.05 L760.57,1862.01 L761.04,1863.97 L761.51,1865.93 L761.99,1867.89 L762.48,1869.85 L762.97,1871.81 L763.46,1873.77 L763.97,1875.74 L764.47,1877.70 L764.99,1879.66 L765.51,1881.63 L766.04,1883.59 L766.58,1885.56 L767.12,1887.53 L767.67,1889.49 L768.23,1891.46 L768.80,1893.43 L769.38,1895.39 L769.97,1897.36 L770.57,1899.32 L771.18,1901.28 L771.80,1903.23 L772.44,1905.18 L773.10,1907.12 L773.76,1909.05 L774.45,1910.97 L775.15,1912.89 L775.87,1914.79 L776.61,1916.67 L777.37,1918.54 L778.16,1920.40 L778.96,1922.24 L779.79,1924.07 L780.64,1925.87 L781.51,1927.66 L782.41,1929.42 L783.34,1931.16 L784.30,1932.88 L785.28,1934.58 L786.30,1936.25 L787.34,1937.89 L788.42,1939.50 L789.52,1941.09 L790.66,1942.64 L791.84,1944.17 L793.05,1945.66 L794.29,1947.12 L795.57,1948.54 L796.89,1949.93 L798.25,1951.28 L799.65,1952.60 L801.09,1953.87 L802.57,1955.10 L804.09,1956.30 L805.65,1957.45 L807.26,1958.55 L808.92,1959.62 L810.62,1960.63 L812.36,1961.60 L814.15,1962.52 L815.97,1963.40 L817.83,1964.23 L819.72,1965.01 L821.64,1965.75 L823.58,1966.44 L825.55,1967.08 L827.53,1967.67 L829.53,1968.22 L831.54,1968.72 L833.56,1969.18 L835.59,1969.59 L837.61,1969.95 L839.64,1970.27 L841.66,1970.53 L843.68,1970.75 L845.68,1970.93 L847.67,1971.06 L849.64,1971.14 L851.59,1971.17 L853.51,1971.15 L855.41,1971.09 L857.28,1970.98 L1157.00,1971.40 L1166.00,1973.50 L1184.30,1973.50" fill="none" stroke="#000" stroke-width="1.6" stroke-linejoin="round" stroke-linecap="round"/>
<line x1="658.40" y1="1571.20" x2="658.40" y2="1587.40" stroke="#000" stroke-width="2.0"/>
<line x1="658.40" y1="1609.30" x2="658.40" y2="1621.00" stroke="#000" stroke-width="2.0"/>
<line x1="658.40" y1="1642.80" x2="658.40" y2="1675.60" stroke="#000" stroke-width="2.0"/>
<line x1="1030.10" y1="1919.20" x2="1030.10" y2="1931.90" stroke="#000" stroke-width="2.0"/>
<line x1="1030.10" y1="1951.10" x2="1030.10" y2="1984.90" stroke="#000" stroke-width="2.0"/>
<rect x="1347.00" y="1094.30" width="1057.50" height="889.30" fill="none" stroke="#000" stroke-width="2.0"/>
<line x1="1321.00" y1="1983.60" x2="1347.00" y2="1983.60" stroke="#000" stroke-width="2.0"/>
<line x1="1335.00" y1="1934.19" x2="1347.00" y2="1934.19" stroke="#000" stroke-width="2.0"/>
<line x1="1335.00" y1="1884.79" x2="1347.00" y2="1884.79" stroke="#000" stroke-width="2.0"/>
<line x1="1335.00" y1="1835.38" x2="1347.00" y2="1835.38" stroke="#000" stroke-width="2.0"/>
<line x1="1335.00" y1="1785.98" x2="1347.00" y2="1785.98" stroke="#000" stroke-width="2.0"/>
<line x1="1321.00" y1="1736.57" x2="1347.00" y2="1736.57" stroke="#000" stroke-width="2.0"/>
<line x1="1335.00" y1="1687.17" x2="1347.00" y2="1687.17" stroke="#000" stroke-width="2.0"/>
<line x1="1335.00" y1="1637.76" x2="1347.00" y2="1637.76" stroke="#000" stroke-width="2.0"/>
<line x1="1335.00" y1="1588.36" x2="1347.00" y2="1588.36" stroke="#000" stroke-width="2.0"/>
<line x1="1335.00" y1="1538.95" x2="1347.00" y2="1538.95" stroke="#000" stroke-width="2.0"/>
<line x1="1321.00" y1="1489.54" x2="1347.00" y2="1489.54" stroke="#000" stroke-width="2.0"/>
<line x1="1335.00" y1="1440.14" x2="1347.00" y2="1440.14" stroke="#000" stroke-width="2.0"/>
<line x1="1335.00" y1="1390.73" x2="1347.00" y2="1390.73" stroke="#000" stroke-width="2.0"/>
<line x1="1335.00" y1="1341.33" x2="1347.00" y2="1341.33" stroke="#000" stroke-width="2.0"/>
<line x1="1335.00" y1="1291.92" x2="1347.00" y2="1291.92" stroke="#000" stroke-width="2.0"/>
<line x1="1321.00" y1="1242.52" x2="1347.00" y2="1242.52" stroke="#000" stroke-width="2.0"/>
<line x1="1335.00" y1="1193.11" x2="1347.00" y2="1193.11" stroke="#000" stroke-width="2.0"/>
<line x1="1335.00" y1="1143.71" x2="1347.00" y2="1143.71" stroke="#000" stroke-width="2.0"/>
<line x1="1335.00" y1="1094.30" x2="1347.00" y2="1094.30" stroke="#000" stroke-width="2.0"/>
<text transform="translate(1270.93,1753.27) scale(1,1.0400)" font-size="46.00">50</text>
<text transform="translate(1245.35,1506.24) scale(1,1.0400)" font-size="46.00">100</text>
<text transform="translate(1245.35,1259.21) scale(1,1.0400)" font-size="46.00">150</text>
<line x1="1347.00" y1="1983.60" x2="1347.00" y2="1995.10" stroke="#000" stroke-width="2.0"/>
<line x1="1405.75" y1="1983.60" x2="1405.75" y2="1995.10" stroke="#000" stroke-width="2.0"/>
<line x1="1464.50" y1="1983.60" x2="1464.50" y2="1995.10" stroke="#000" stroke-width="2.0"/>
<line x1="1523.25" y1="1983.60" x2="1523.25" y2="2001.10" stroke="#000" stroke-width="2.0"/>
<line x1="1582.00" y1="1983.60" x2="1582.00" y2="1995.10" stroke="#000" stroke-width="2.0"/>
<line x1="1640.75" y1="1983.60" x2="1640.75" y2="1995.10" stroke="#000" stroke-width="2.0"/>
<line x1="1699.50" y1="1983.60" x2="1699.50" y2="1995.10" stroke="#000" stroke-width="2.0"/>
<line x1="1758.25" y1="1983.60" x2="1758.25" y2="1995.10" stroke="#000" stroke-width="2.0"/>
<line x1="1817.00" y1="1983.60" x2="1817.00" y2="2009.60" stroke="#000" stroke-width="2.0"/>
<line x1="1875.75" y1="1983.60" x2="1875.75" y2="1995.10" stroke="#000" stroke-width="2.0"/>
<line x1="1934.50" y1="1983.60" x2="1934.50" y2="1995.10" stroke="#000" stroke-width="2.0"/>
<line x1="1993.25" y1="1983.60" x2="1993.25" y2="1995.10" stroke="#000" stroke-width="2.0"/>
<line x1="2052.00" y1="1983.60" x2="2052.00" y2="1995.10" stroke="#000" stroke-width="2.0"/>
<line x1="2110.75" y1="1983.60" x2="2110.75" y2="2001.10" stroke="#000" stroke-width="2.0"/>
<line x1="2169.50" y1="1983.60" x2="2169.50" y2="1995.10" stroke="#000" stroke-width="2.0"/>
<line x1="2228.25" y1="1983.60" x2="2228.25" y2="1995.10" stroke="#000" stroke-width="2.0"/>
<line x1="2287.00" y1="1983.60" x2="2287.00" y2="1995.10" stroke="#000" stroke-width="2.0"/>
<line x1="2345.75" y1="1983.60" x2="2345.75" y2="1995.10" stroke="#000" stroke-width="2.0"/>
<line x1="2404.50" y1="1983.60" x2="2404.50" y2="2009.60" stroke="#000" stroke-width="2.0"/>
<text transform="translate(1778.65,2053.39) scale(1,1.0400)" font-size="46.00">300</text>
<text transform="translate(1231.09,1059.75) scale(1,1.0071)" font-size="47.63">mAU</text>
<text x="1752.30" y="2100.00" font-size="46.47">Wavelength, nm</text>
<text transform="translate(2300.22,1202.50) scale(1,1.0758)" font-size="102.01">C</text>
<text transform="translate(1900.19,1446.20) scale(1,1.1278)" font-size="42.30">321</text>
<text transform="translate(1424.59,1813.70) scale(1,1.0252)" font-size="45.98">240</text>
<text transform="translate(1346.54,1861.60) scale(1,1.0792)" font-size="43.01">221</text>
<path d="M1348.18,1928.59 L1349.96,1927.28 L1351.60,1926.94 L1353.10,1927.36 L1354.46,1928.33 L1355.70,1929.61 L1356.82,1931.06 L1357.84,1932.64 L1358.78,1934.33 L1359.67,1936.12 L1360.53,1937.99 L1361.37,1939.92 L1362.21,1941.90 L1363.07,1943.90 L1363.98,1945.92 L1364.96,1947.93 L1366.02,1949.92 L1367.18,1951.86 L1368.45,1953.71 L1369.80,1955.36 L1371.23,1956.74 L1372.72,1957.75 L1374.24,1958.30 L1375.79,1958.30 L1377.34,1957.72 L1378.88,1956.72 L1380.38,1955.48 L1381.84,1954.16 L1383.25,1952.80 L1384.62,1951.39 L1385.95,1949.95 L1387.23,1948.46 L1388.47,1946.94 L1389.69,1945.39 L1390.86,1943.81 L1392.01,1942.19 L1393.13,1940.55 L1394.22,1938.89 L1395.29,1937.20 L1396.34,1935.50 L1397.36,1933.77 L1398.38,1932.03 L1399.38,1930.28 L1400.36,1928.51 L1401.34,1926.74 L1402.31,1924.96 L1403.28,1923.18 L1404.25,1921.39 L1405.21,1919.60 L1406.18,1917.82 L1407.16,1916.04 L1408.14,1914.27 L1409.14,1912.51 L1410.14,1910.76 L1411.16,1909.02 L1412.20,1907.30 L1413.26,1905.60 L1414.34,1903.92 L1415.45,1902.26 L1416.58,1900.62 L1417.75,1899.02 L1418.94,1897.44 L1420.17,1895.89 L1421.44,1894.38 L1422.74,1892.91 L1424.09,1891.47 L1425.48,1890.07 L1426.92,1888.72 L1428.41,1887.41 L1429.95,1886.15 L1431.54,1884.94 L1433.19,1883.79 L1434.89,1882.68 L1436.64,1881.64 L1438.44,1880.66 L1440.28,1879.74 L1442.16,1878.89 L1444.06,1878.12 L1445.99,1877.42 L1447.94,1876.80 L1449.91,1876.26 L1451.89,1875.82 L1453.87,1875.46 L1455.85,1875.19 L1457.83,1875.03 L1459.81,1874.96 L1461.76,1875.00 L1463.70,1875.15 L1465.61,1875.40 L1467.51,1875.76 L1469.37,1876.23 L1471.22,1876.79 L1473.03,1877.44 L1474.82,1878.19 L1476.59,1879.02 L1478.32,1879.93 L1480.03,1880.93 L1481.71,1881.99 L1483.36,1883.13 L1484.97,1884.34 L1486.57,1885.59 L1488.14,1886.89 L1489.71,1888.19 L1491.28,1889.49 L1492.87,1890.75 L1494.48,1891.97 L1496.12,1893.11 L1497.81,1894.16 L1499.55,1895.09 L1501.35,1895.89 L1503.20,1896.55 L1505.11,1897.10 L1507.06,1897.54 L1509.05,1897.88 L1511.07,1898.14 L1513.10,1898.32 L1515.16,1898.45 L1517.22,1898.53 L1519.28,1898.61 L1521.34,1898.68 L1523.39,1898.77 L1525.41,1898.90 L1527.41,1899.09 L1529.38,1899.35 L1531.31,1899.71 L1533.19,1900.18 L1535.02,1900.78 L1536.79,1901.54 L1538.49,1902.46 L1540.13,1903.56 L1541.71,1904.81 L1543.26,1906.15 L1544.80,1907.54 L1546.34,1908.95 L1547.92,1910.32 L1549.54,1911.61 L1551.22,1912.80 L1552.96,1913.88 L1554.74,1914.85 L1556.55,1915.70 L1558.41,1916.44 L1560.28,1917.06 L1562.18,1917.56 L1564.09,1917.94 L1566.00,1918.19 L1567.92,1918.31 L1569.82,1918.31 L1571.72,1918.17 L1573.60,1917.91 L1575.47,1917.52 L1577.32,1917.03 L1579.16,1916.43 L1580.99,1915.74 L1582.80,1914.96 L1584.59,1914.10 L1586.38,1913.17 L1588.15,1912.18 L1589.90,1911.14 L1591.64,1910.04 L1593.37,1908.91 L1595.08,1907.75 L1596.79,1906.56 L1598.47,1905.36 L1600.15,1904.16 L1601.81,1902.94 L1603.45,1901.72 L1605.09,1900.48 L1606.71,1899.25 L1608.32,1898.00 L1609.92,1896.75 L1611.51,1895.49 L1613.09,1894.22 L1614.65,1892.95 L1616.21,1891.67 L1617.75,1890.39 L1619.29,1889.10 L1620.81,1887.80 L1622.33,1886.50 L1623.84,1885.19 L1625.33,1883.87 L1626.83,1882.55 L1628.31,1881.22 L1629.78,1879.89 L1631.25,1878.55 L1632.71,1877.21 L1634.16,1875.86 L1635.61,1874.50 L1637.05,1873.14 L1638.48,1871.78 L1639.91,1870.41 L1641.33,1869.04 L1642.75,1867.66 L1644.16,1866.28 L1645.57,1864.89 L1646.98,1863.50 L1648.38,1862.10 L1649.77,1860.70 L1651.17,1859.30 L1652.56,1857.89 L1653.95,1856.48 L1655.33,1855.06 L1656.71,1853.64 L1658.10,1852.22 L1659.48,1850.80 L1660.85,1849.37 L1662.23,1847.94 L1663.61,1846.50 L1664.99,1845.06 L1666.36,1843.62 L1667.74,1842.18 L1669.11,1840.74 L1670.49,1839.29 L1671.86,1837.84 L1673.24,1836.39 L1674.62,1834.94 L1675.99,1833.49 L1677.37,1832.04 L1678.75,1830.58 L1680.12,1829.13 L1681.50,1827.68 L1682.88,1826.23 L1684.27,1824.77 L1685.65,1823.32 L1687.03,1821.87 L1688.42,1820.42 L1689.81,1818.97 L1691.20,1817.53 L1692.59,1816.08 L1693.98,1814.64 L1695.38,1813.20 L1696.78,1811.76 L1698.18,1810.33 L1699.58,1808.90 L1700.99,1807.47 L1702.40,1806.04 L1703.81,1804.62 L1705.23,1803.20 L1706.64,1801.79 L1708.07,1800.38 L1709.49,1798.97 L1710.92,1797.57 L1712.35,1796.18 L1713.79,1794.79 L1715.23,1793.40 L1716.68,1792.02 L1718.13,1790.65 L1719.58,1789.28 L1721.04,1787.92 L1722.50,1786.56 L1723.96,1785.20 L1725.42,1783.85 L1726.89,1782.50 L1728.35,1781.15 L1729.82,1779.80 L1731.29,1778.46 L1732.76,1777.11 L1734.22,1775.77 L1735.69,1774.42 L1737.15,1773.08 L1738.62,1771.73 L1740.09,1770.38 L1741.55,1769.04 L1743.02,1767.70 L1744.49,1766.36 L1745.96,1765.02 L1747.44,1763.69 L1748.92,1762.36 L1750.41,1761.04 L1751.90,1759.72 L1753.40,1758.41 L1754.91,1757.11 L1756.43,1755.81 L1757.95,1754.52 L1759.48,1753.24 L1761.02,1751.98 L1762.58,1750.72 L1764.14,1749.47 L1765.72,1748.23 L1767.30,1747.01 L1768.90,1745.79 L1770.50,1744.57 L1772.10,1743.36 L1773.71,1742.15 L1775.31,1740.94 L1776.90,1739.72 L1778.49,1738.50 L1780.07,1737.27 L1781.64,1736.02 L1783.19,1734.76 L1784.72,1733.49 L1786.23,1732.19 L1787.72,1730.87 L1789.19,1729.53 L1790.62,1728.17 L1792.04,1726.78 L1793.42,1725.36 L1794.78,1723.92 L1796.12,1722.46 L1797.43,1720.98 L1798.71,1719.48 L1799.98,1717.95 L1801.22,1716.41 L1802.44,1714.84 L1803.64,1713.26 L1804.82,1711.66 L1805.98,1710.05 L1807.11,1708.42 L1808.23,1706.77 L1809.33,1705.11 L1810.42,1703.43 L1811.48,1701.74 L1812.53,1700.04 L1813.57,1698.32 L1814.58,1696.59 L1815.58,1694.86 L1816.57,1693.11 L1817.55,1691.36 L1818.51,1689.59 L1819.45,1687.82 L1820.39,1686.04 L1821.31,1684.26 L1822.22,1682.46 L1823.13,1680.67 L1824.02,1678.87 L1824.90,1677.06 L1825.77,1675.26 L1826.64,1673.45 L1827.50,1671.63 L1828.34,1669.81 L1829.18,1667.99 L1830.02,1666.17 L1830.85,1664.34 L1831.67,1662.51 L1832.48,1660.68 L1833.29,1658.85 L1834.10,1657.01 L1834.90,1655.17 L1835.69,1653.33 L1836.48,1651.49 L1837.27,1649.65 L1838.06,1647.81 L1838.84,1645.97 L1839.62,1644.13 L1840.40,1642.28 L1841.18,1640.44 L1841.96,1638.60 L1842.73,1636.75 L1843.51,1634.91 L1844.29,1633.07 L1845.07,1631.23 L1845.84,1629.39 L1846.63,1627.55 L1847.41,1625.71 L1848.19,1623.87 L1848.98,1622.04 L1849.77,1620.21 L1850.57,1618.38 L1851.36,1616.55 L1852.17,1614.73 L1852.98,1612.91 L1853.79,1611.09 L1854.61,1609.27 L1855.43,1607.46 L1856.26,1605.65 L1857.10,1603.85 L1857.95,1602.05 L1858.80,1600.25 L1859.66,1598.46 L1860.53,1596.67 L1861.41,1594.89 L1862.30,1593.11 L1863.20,1591.34 L1864.11,1589.57 L1865.03,1587.81 L1865.96,1586.05 L1866.90,1584.30 L1867.85,1582.56 L1868.82,1580.82 L1869.80,1579.09 L1870.79,1577.37 L1871.80,1575.65 L1872.81,1573.94 L1873.85,1572.24 L1874.90,1570.54 L1875.96,1568.85 L1877.04,1567.17 L1878.13,1565.50 L1879.25,1563.84 L1880.37,1562.18 L1881.51,1560.54 L1882.67,1558.90 L1883.84,1557.27 L1885.03,1555.64 L1886.22,1554.03 L1887.43,1552.42 L1888.65,1550.82 L1889.88,1549.22 L1891.11,1547.64 L1892.36,1546.06 L1893.62,1544.48 L1894.88,1542.92 L1896.15,1541.36 L1897.43,1539.80 L1898.71,1538.26 L1899.99,1536.71 L1901.28,1535.18 L1902.58,1533.65 L1903.88,1532.13 L1905.18,1530.61 L1906.49,1529.11 L1907.81,1527.62 L1909.15,1526.15 L1910.51,1524.70 L1911.89,1523.28 L1913.29,1521.88 L1914.73,1520.51 L1916.20,1519.18 L1917.71,1517.89 L1919.25,1516.64 L1920.85,1515.43 L1922.49,1514.27 L1924.18,1513.16 L1925.92,1512.11 L1927.72,1511.11 L1929.58,1510.20 L1931.47,1509.43 L1933.39,1508.84 L1935.32,1508.48 L1937.23,1508.41 L1939.13,1508.66 L1941.00,1509.23 L1942.82,1510.03 L1944.59,1510.97 L1946.30,1511.99 L1947.96,1513.09 L1949.56,1514.25 L1951.10,1515.48 L1952.60,1516.77 L1954.05,1518.12 L1955.45,1519.52 L1956.81,1520.97 L1958.12,1522.47 L1959.40,1524.01 L1960.64,1525.59 L1961.85,1527.20 L1963.02,1528.85 L1964.16,1530.52 L1965.28,1532.21 L1966.37,1533.92 L1967.44,1535.65 L1968.48,1537.39 L1969.51,1539.14 L1970.52,1540.89 L1971.51,1542.64 L1972.49,1544.41 L1973.46,1546.17 L1974.41,1547.94 L1975.35,1549.71 L1976.27,1551.49 L1977.18,1553.27 L1978.08,1555.05 L1978.98,1556.84 L1979.86,1558.63 L1980.73,1560.42 L1981.59,1562.21 L1982.45,1564.01 L1983.30,1565.81 L1984.14,1567.61 L1984.98,1569.41 L1985.82,1571.21 L1986.65,1573.02 L1987.47,1574.82 L1988.30,1576.63 L1989.12,1578.43 L1989.94,1580.24 L1990.76,1582.05 L1991.58,1583.86 L1992.41,1585.67 L1993.23,1587.47 L1994.06,1589.28 L1994.89,1591.09 L1995.72,1592.89 L1996.56,1594.70 L1997.40,1596.50 L1998.25,1598.30 L1999.11,1600.10 L1999.96,1601.90 L2000.83,1603.70 L2001.69,1605.50 L2002.56,1607.30 L2003.43,1609.10 L2004.30,1610.90 L2005.18,1612.69 L2006.05,1614.49 L2006.93,1616.29 L2007.80,1618.09 L2008.67,1619.89 L2009.55,1621.69 L2010.42,1623.50 L2011.29,1625.30 L2012.15,1627.11 L2013.01,1628.91 L2013.87,1630.72 L2014.73,1632.53 L2015.57,1634.35 L2016.42,1636.16 L2017.25,1637.98 L2018.09,1639.81 L2018.91,1641.63 L2019.73,1643.46 L2020.53,1645.29 L2021.33,1647.13 L2022.12,1648.96 L2022.91,1650.81 L2023.68,1652.65 L2024.44,1654.51 L2025.19,1656.36 L2025.93,1658.22 L2026.65,1660.09 L2027.37,1661.95 L2028.08,1663.83 L2028.78,1665.70 L2029.47,1667.58 L2030.15,1669.46 L2030.82,1671.35 L2031.48,1673.24 L2032.14,1675.13 L2032.79,1677.02 L2033.43,1678.92 L2034.07,1680.82 L2034.70,1682.72 L2035.33,1684.62 L2035.95,1686.52 L2036.57,1688.43 L2037.18,1690.33 L2037.78,1692.24 L2038.39,1694.15 L2038.99,1696.06 L2039.59,1697.97 L2040.19,1699.88 L2040.78,1701.79 L2041.37,1703.70 L2041.96,1705.61 L2042.56,1707.52 L2043.15,1709.43 L2043.74,1711.34 L2044.33,1713.25 L2044.92,1715.16 L2045.51,1717.06 L2046.11,1718.97 L2046.70,1720.87 L2047.30,1722.77 L2047.90,1724.68 L2048.49,1726.58 L2049.09,1728.48 L2049.69,1730.38 L2050.29,1732.27 L2050.89,1734.17 L2051.49,1736.07 L2052.09,1737.97 L2052.69,1739.87 L2053.28,1741.76 L2053.88,1743.66 L2054.48,1745.56 L2055.07,1747.46 L2055.67,1749.35 L2056.26,1751.25 L2056.86,1753.15 L2057.45,1755.05 L2058.03,1756.95 L2058.62,1758.85 L2059.21,1760.75 L2059.79,1762.66 L2060.37,1764.56 L2060.95,1766.47 L2061.53,1768.37 L2062.10,1770.28 L2062.67,1772.19 L2063.24,1774.10 L2063.81,1776.01 L2064.37,1777.92 L2064.93,1779.84 L2065.48,1781.75 L2066.03,1783.67 L2066.58,1785.59 L2067.12,1787.52 L2067.66,1789.44 L2068.20,1791.37 L2068.73,1793.30 L2069.26,1795.23 L2069.78,1797.17 L2070.30,1799.10 L2070.82,1801.04 L2071.33,1802.98 L2071.85,1804.92 L2072.36,1806.86 L2072.87,1808.81 L2073.37,1810.75 L2073.88,1812.70 L2074.39,1814.64 L2074.89,1816.59 L2075.40,1818.54 L2075.90,1820.48 L2076.41,1822.43 L2076.91,1824.38 L2077.42,1826.33 L2077.93,1828.27 L2078.44,1830.22 L2078.95,1832.16 L2079.47,1834.11 L2079.99,1836.05 L2080.51,1837.99 L2081.03,1839.94 L2081.56,1841.88 L2082.09,1843.82 L2082.62,1845.75 L2083.16,1847.69 L2083.70,1849.62 L2084.25,1851.55 L2084.81,1853.48 L2085.37,1855.41 L2085.93,1857.33 L2086.50,1859.25 L2087.08,1861.17 L2087.67,1863.08 L2088.26,1865.00 L2088.86,1866.91 L2089.47,1868.81 L2090.08,1870.71 L2090.71,1872.61 L2091.34,1874.50 L2091.98,1876.39 L2092.63,1878.28 L2093.29,1880.16 L2093.97,1882.04 L2094.65,1883.91 L2095.34,1885.78 L2096.04,1887.64 L2096.75,1889.50 L2097.48,1891.35 L2098.21,1893.20 L2098.96,1895.04 L2099.72,1896.87 L2100.50,1898.70 L2101.28,1900.53 L2102.08,1902.35 L2102.90,1904.16 L2103.73,1905.96 L2104.57,1907.76 L2105.42,1909.55 L2106.29,1911.34 L2107.18,1913.12 L2108.08,1914.89 L2109.00,1916.65 L2109.93,1918.41 L2110.88,1920.16 L2111.85,1921.90 L2112.83,1923.63 L2113.83,1925.36 L2114.85,1927.07 L2115.88,1928.78 L2116.94,1930.48 L2118.01,1932.17 L2119.10,1933.85 L2120.21,1935.53 L2121.34,1937.19 L2122.49,1938.85 L2123.66,1940.49 L2124.85,1942.12 L2126.06,1943.73 L2127.30,1945.32 L2128.55,1946.90 L2129.83,1948.45 L2131.13,1949.99 L2132.45,1951.50 L2133.80,1952.98 L2135.17,1954.44 L2136.57,1955.87 L2137.99,1957.26 L2139.44,1958.63 L2140.91,1959.96 L2142.41,1961.26 L2143.94,1962.52 L2145.49,1963.74 L2147.07,1964.92 L2148.68,1966.06 L2150.32,1967.15 L2151.99,1968.20 L2153.68,1969.20 L2155.41,1970.16 L2157.16,1971.06 L2158.95,1971.91 L2160.77,1972.71 L2162.62,1973.45 L2164.50,1974.14 L2166.40,1974.79 L2168.33,1975.38 L2170.28,1975.94 L2172.25,1976.45 L2174.24,1976.93 L2176.24,1977.38 L2178.25,1977.80 L2180.27,1978.19 L2182.30,1978.55 L2184.33,1978.90 L2186.36,1979.22 L2188.39,1979.54 L2190.42,1979.84 L2192.44,1980.13 L2194.46,1980.42 L2196.46,1980.71 L2198.45,1981.00 L2200.42,1981.29 L2202.37,1981.59 L2204.31,1981.90 L2206.21,1982.22 L2208.10,1982.56 L2209.95,1982.92 L2211.78,1983.31" fill="none" stroke="#000" stroke-width="1.6" stroke-linejoin="round" stroke-linecap="round"/>
<line x1="1938.20" y1="1455.10" x2="1938.20" y2="1473.30" stroke="#000" stroke-width="2.0"/>
<line x1="1938.20" y1="1493.50" x2="1938.20" y2="1507.80" stroke="#000" stroke-width="2.0"/>
<line x1="1938.20" y1="1527.20" x2="1938.20" y2="1561.40" stroke="#000" stroke-width="2.0"/>
<line x1="1463.00" y1="1822.50" x2="1463.00" y2="1838.40" stroke="#000" stroke-width="2.0"/>
<line x1="1463.00" y1="1860.60" x2="1463.00" y2="1872.40" stroke="#000" stroke-width="2.0"/>
<line x1="1463.00" y1="1892.00" x2="1463.00" y2="1927.40" stroke="#000" stroke-width="2.0"/>
<line x1="1351.10" y1="1871.40" x2="1351.10" y2="1889.40" stroke="#000" stroke-width="2.0"/>
<line x1="1351.10" y1="1909.40" x2="1351.10" y2="1926.40" stroke="#000" stroke-width="2.0"/>
<line x1="1351.10" y1="1943.40" x2="1351.10" y2="1977.90" stroke="#000" stroke-width="2.0"/>
<rect x="132.80" y="2207.50" width="1066.20" height="1001.40" fill="none" stroke="#000" stroke-width="2.0"/>
<line x1="106.80" y1="3208.90" x2="132.80" y2="3208.90" stroke="#000" stroke-width="2.0"/>
<line x1="121.30" y1="3198.89" x2="132.80" y2="3198.89" stroke="#000" stroke-width="2.0"/>
<line x1="121.30" y1="3188.87" x2="132.80" y2="3188.87" stroke="#000" stroke-width="2.0"/>
<line x1="121.30" y1="3178.86" x2="132.80" y2="3178.86" stroke="#000" stroke-width="2.0"/>
<line x1="121.30" y1="3168.84" x2="132.80" y2="3168.84" stroke="#000" stroke-width="2.0"/>
<line x1="115.80" y1="3158.83" x2="132.80" y2="3158.83" stroke="#000" stroke-width="2.0"/>
<line x1="121.30" y1="3148.82" x2="132.80" y2="3148.82" stroke="#000" stroke-width="2.0"/>
<line x1="121.30" y1="3138.80" x2="132.80" y2="3138.80" stroke="#000" stroke-width="2.0"/>
<line x1="121.30" y1="3128.79" x2="132.80" y2="3128.79" stroke="#000" stroke-width="2.0"/>
<line x1="121.30" y1="3118.77" x2="132.80" y2="3118.77" stroke="#000" stroke-width="2.0"/>
<line x1="106.80" y1="3108.76" x2="132.80" y2="3108.76" stroke="#000" stroke-width="2.0"/>
<line x1="121.30" y1="3098.75" x2="132.80" y2="3098.75" stroke="#000" stroke-width="2.0"/>
<line x1="121.30" y1="3088.73" x2="132.80" y2="3088.73" stroke="#000" stroke-width="2.0"/>
<line x1="121.30" y1="3078.72" x2="132.80" y2="3078.72" stroke="#000" stroke-width="2.0"/>
<line x1="121.30" y1="3068.70" x2="132.80" y2="3068.70" stroke="#000" stroke-width="2.0"/>
<line x1="115.80" y1="3058.69" x2="132.80" y2="3058.69" stroke="#000" stroke-width="2.0"/>
<line x1="121.30" y1="3048.68" x2="132.80" y2="3048.68" stroke="#000" stroke-width="2.0"/>
<line x1="121.30" y1="3038.66" x2="132.80" y2="3038.66" stroke="#000" stroke-width="2.0"/>
<line x1="121.30" y1="3028.65" x2="132.80" y2="3028.65" stroke="#000" stroke-width="2.0"/>
<line x1="121.30" y1="3018.63" x2="132.80" y2="3018.63" stroke="#000" stroke-width="2.0"/>
<line x1="106.80" y1="3008.62" x2="132.80" y2="3008.62" stroke="#000" stroke-width="2.0"/>
<line x1="121.30" y1="2998.61" x2="132.80" y2="2998.61" stroke="#000" stroke-width="2.0"/>
<line x1="121.30" y1="2988.59" x2="132.80" y2="2988.59" stroke="#000" stroke-width="2.0"/>
<line x1="121.30" y1="2978.58" x2="132.80" y2="2978.58" stroke="#000" stroke-width="2.0"/>
<line x1="121.30" y1="2968.56" x2="132.80" y2="2968.56" stroke="#000" stroke-width="2.0"/>
<line x1="115.80" y1="2958.55" x2="132.80" y2="2958.55" stroke="#000" stroke-width="2.0"/>
<line x1="121.30" y1="2948.54" x2="132.80" y2="2948.54" stroke="#000" stroke-width="2.0"/>
<line x1="121.30" y1="2938.52" x2="132.80" y2="2938.52" stroke="#000" stroke-width="2.0"/>
<line x1="121.30" y1="2928.51" x2="132.80" y2="2928.51" stroke="#000" stroke-width="2.0"/>
<line x1="121.30" y1="2918.49" x2="132.80" y2="2918.49" stroke="#000" stroke-width="2.0"/>
<line x1="106.80" y1="2908.48" x2="132.80" y2="2908.48" stroke="#000" stroke-width="2.0"/>
<line x1="121.30" y1="2898.47" x2="132.80" y2="2898.47" stroke="#000" stroke-width="2.0"/>
<line x1="121.30" y1="2888.45" x2="132.80" y2="2888.45" stroke="#000" stroke-width="2.0"/>
<line x1="121.30" y1="2878.44" x2="132.80" y2="2878.44" stroke="#000" stroke-width="2.0"/>
<line x1="121.30" y1="2868.42" x2="132.80" y2="2868.42" stroke="#000" stroke-width="2.0"/>
<line x1="115.80" y1="2858.41" x2="132.80" y2="2858.41" stroke="#000" stroke-width="2.0"/>
<line x1="121.30" y1="2848.40" x2="132.80" y2="2848.40" stroke="#000" stroke-width="2.0"/>
<line x1="121.30" y1="2838.38" x2="132.80" y2="2838.38" stroke="#000" stroke-width="2.0"/>
<line x1="121.30" y1="2828.37" x2="132.80" y2="2828.37" stroke="#000" stroke-width="2.0"/>
<line x1="121.30" y1="2818.35" x2="132.80" y2="2818.35" stroke="#000" stroke-width="2.0"/>
<line x1="106.80" y1="2808.34" x2="132.80" y2="2808.34" stroke="#000" stroke-width="2.0"/>
<line x1="121.30" y1="2798.33" x2="132.80" y2="2798.33" stroke="#000" stroke-width="2.0"/>
<line x1="121.30" y1="2788.31" x2="132.80" y2="2788.31" stroke="#000" stroke-width="2.0"/>
<line x1="121.30" y1="2778.30" x2="132.80" y2="2778.30" stroke="#000" stroke-width="2.0"/>
<line x1="121.30" y1="2768.28" x2="132.80" y2="2768.28" stroke="#000" stroke-width="2.0"/>
<line x1="115.80" y1="2758.27" x2="132.80" y2="2758.27" stroke="#000" stroke-width="2.0"/>
<line x1="121.30" y1="2748.26" x2="132.80" y2="2748.26" stroke="#000" stroke-width="2.0"/>
<line x1="121.30" y1="2738.24" x2="132.80" y2="2738.24" stroke="#000" stroke-width="2.0"/>
<line x1="121.30" y1="2728.23" x2="132.80" y2="2728.23" stroke="#000" stroke-width="2.0"/>
<line x1="121.30" y1="2718.21" x2="132.80" y2="2718.21" stroke="#000" stroke-width="2.0"/>
<line x1="106.80" y1="2708.20" x2="132.80" y2="2708.20" stroke="#000" stroke-width="2.0"/>
<line x1="121.30" y1="2698.19" x2="132.80" y2="2698.19" stroke="#000" stroke-width="2.0"/>
<line x1="121.30" y1="2688.17" x2="132.80" y2="2688.17" stroke="#000" stroke-width="2.0"/>
<line x1="121.30" y1="2678.16" x2="132.80" y2="2678.16" stroke="#000" stroke-width="2.0"/>
<line x1="121.30" y1="2668.14" x2="132.80" y2="2668.14" stroke="#000" stroke-width="2.0"/>
<line x1="115.80" y1="2658.13" x2="132.80" y2="2658.13" stroke="#000" stroke-width="2.0"/>
<line x1="121.30" y1="2648.12" x2="132.80" y2="2648.12" stroke="#000" stroke-width="2.0"/>
<line x1="121.30" y1="2638.10" x2="132.80" y2="2638.10" stroke="#000" stroke-width="2.0"/>
<line x1="121.30" y1="2628.09" x2="132.80" y2="2628.09" stroke="#000" stroke-width="2.0"/>
<line x1="121.30" y1="2618.07" x2="132.80" y2="2618.07" stroke="#000" stroke-width="2.0"/>
<line x1="106.80" y1="2608.06" x2="132.80" y2="2608.06" stroke="#000" stroke-width="2.0"/>
<line x1="121.30" y1="2598.05" x2="132.80" y2="2598.05" stroke="#000" stroke-width="2.0"/>
<line x1="121.30" y1="2588.03" x2="132.80" y2="2588.03" stroke="#000" stroke-width="2.0"/>
<line x1="121.30" y1="2578.02" x2="132.80" y2="2578.02" stroke="#000" stroke-width="2.0"/>
<line x1="121.30" y1="2568.00" x2="132.80" y2="2568.00" stroke="#000" stroke-width="2.0"/>
<line x1="115.80" y1="2557.99" x2="132.80" y2="2557.99" stroke="#000" stroke-width="2.0"/>
<line x1="121.30" y1="2547.98" x2="132.80" y2="2547.98" stroke="#000" stroke-width="2.0"/>
<line x1="121.30" y1="2537.96" x2="132.80" y2="2537.96" stroke="#000" stroke-width="2.0"/>
<line x1="121.30" y1="2527.95" x2="132.80" y2="2527.95" stroke="#000" stroke-width="2.0"/>
<line x1="121.30" y1="2517.93" x2="132.80" y2="2517.93" stroke="#000" stroke-width="2.0"/>
<line x1="106.80" y1="2507.92" x2="132.80" y2="2507.92" stroke="#000" stroke-width="2.0"/>
<line x1="121.30" y1="2497.91" x2="132.80" y2="2497.91" stroke="#000" stroke-width="2.0"/>
<line x1="121.30" y1="2487.89" x2="132.80" y2="2487.89" stroke="#000" stroke-width="2.0"/>
<line x1="121.30" y1="2477.88" x2="132.80" y2="2477.88" stroke="#000" stroke-width="2.0"/>
<line x1="121.30" y1="2467.86" x2="132.80" y2="2467.86" stroke="#000" stroke-width="2.0"/>
<line x1="115.80" y1="2457.85" x2="132.80" y2="2457.85" stroke="#000" stroke-width="2.0"/>
<line x1="121.30" y1="2447.84" x2="132.80" y2="2447.84" stroke="#000" stroke-width="2.0"/>
<line x1="121.30" y1="2437.82" x2="132.80" y2="2437.82" stroke="#000" stroke-width="2.0"/>
<line x1="121.30" y1="2427.81" x2="132.80" y2="2427.81" stroke="#000" stroke-width="2.0"/>
<line x1="121.30" y1="2417.79" x2="132.80" y2="2417.79" stroke="#000" stroke-width="2.0"/>
<line x1="106.80" y1="2407.78" x2="132.80" y2="2407.78" stroke="#000" stroke-width="2.0"/>
<line x1="121.30" y1="2397.77" x2="132.80" y2="2397.77" stroke="#000" stroke-width="2.0"/>
<line x1="121.30" y1="2387.75" x2="132.80" y2="2387.75" stroke="#000" stroke-width="2.0"/>
<line x1="121.30" y1="2377.74" x2="132.80" y2="2377.74" stroke="#000" stroke-width="2.0"/>
<line x1="121.30" y1="2367.72" x2="132.80" y2="2367.72" stroke="#000" stroke-width="2.0"/>
<line x1="115.80" y1="2357.71" x2="132.80" y2="2357.71" stroke="#000" stroke-width="2.0"/>
<line x1="121.30" y1="2347.70" x2="132.80" y2="2347.70" stroke="#000" stroke-width="2.0"/>
<line x1="121.30" y1="2337.68" x2="132.80" y2="2337.68" stroke="#000" stroke-width="2.0"/>
<line x1="121.30" y1="2327.67" x2="132.80" y2="2327.67" stroke="#000" stroke-width="2.0"/>
<line x1="121.30" y1="2317.65" x2="132.80" y2="2317.65" stroke="#000" stroke-width="2.0"/>
<line x1="106.80" y1="2307.64" x2="132.80" y2="2307.64" stroke="#000" stroke-width="2.0"/>
<line x1="121.30" y1="2297.63" x2="132.80" y2="2297.63" stroke="#000" stroke-width="2.0"/>
<line x1="121.30" y1="2287.61" x2="132.80" y2="2287.61" stroke="#000" stroke-width="2.0"/>
<line x1="121.30" y1="2277.60" x2="132.80" y2="2277.60" stroke="#000" stroke-width="2.0"/>
<line x1="121.30" y1="2267.58" x2="132.80" y2="2267.58" stroke="#000" stroke-width="2.0"/>
<line x1="115.80" y1="2257.57" x2="132.80" y2="2257.57" stroke="#000" stroke-width="2.0"/>
<line x1="121.30" y1="2247.56" x2="132.80" y2="2247.56" stroke="#000" stroke-width="2.0"/>
<line x1="121.30" y1="2237.54" x2="132.80" y2="2237.54" stroke="#000" stroke-width="2.0"/>
<line x1="121.30" y1="2227.53" x2="132.80" y2="2227.53" stroke="#000" stroke-width="2.0"/>
<line x1="121.30" y1="2217.51" x2="132.80" y2="2217.51" stroke="#000" stroke-width="2.0"/>
<line x1="106.80" y1="2207.50" x2="132.80" y2="2207.50" stroke="#000" stroke-width="2.0"/>
<text transform="translate(55.43,3125.46) scale(1,1.0400)" font-size="46.00">10</text>
<text transform="translate(55.43,3025.32) scale(1,1.0400)" font-size="46.00">20</text>
<text transform="translate(55.43,2925.18) scale(1,1.0400)" font-size="46.00">30</text>
<text transform="translate(55.43,2825.04) scale(1,1.0400)" font-size="46.00">40</text>
<text transform="translate(55.43,2724.90) scale(1,1.0400)" font-size="46.00">50</text>
<text transform="translate(55.43,2624.76) scale(1,1.0400)" font-size="46.00">60</text>
<text transform="translate(55.43,2524.62) scale(1,1.0400)" font-size="46.00">70</text>
<text transform="translate(55.43,2424.48) scale(1,1.0400)" font-size="46.00">80</text>
<text transform="translate(55.43,2324.34) scale(1,1.0400)" font-size="46.00">90</text>
<text transform="translate(29.85,2224.20) scale(1,1.0400)" font-size="46.00">100</text>
<line x1="159.46" y1="3208.90" x2="159.46" y2="3220.40" stroke="#000" stroke-width="2.0"/>
<line x1="186.11" y1="3208.90" x2="186.11" y2="3220.40" stroke="#000" stroke-width="2.0"/>
<line x1="212.77" y1="3208.90" x2="212.77" y2="3220.40" stroke="#000" stroke-width="2.0"/>
<line x1="239.42" y1="3208.90" x2="239.42" y2="3220.40" stroke="#000" stroke-width="2.0"/>
<line x1="266.08" y1="3208.90" x2="266.08" y2="3233.90" stroke="#000" stroke-width="2.0"/>
<line x1="292.73" y1="3208.90" x2="292.73" y2="3220.40" stroke="#000" stroke-width="2.0"/>
<line x1="319.38" y1="3208.90" x2="319.38" y2="3220.40" stroke="#000" stroke-width="2.0"/>
<line x1="346.04" y1="3208.90" x2="346.04" y2="3220.40" stroke="#000" stroke-width="2.0"/>
<line x1="372.70" y1="3208.90" x2="372.70" y2="3220.40" stroke="#000" stroke-width="2.0"/>
<line x1="399.35" y1="3208.90" x2="399.35" y2="3233.90" stroke="#000" stroke-width="2.0"/>
<line x1="426.01" y1="3208.90" x2="426.01" y2="3220.40" stroke="#000" stroke-width="2.0"/>
<line x1="452.66" y1="3208.90" x2="452.66" y2="3220.40" stroke="#000" stroke-width="2.0"/>
<line x1="479.31" y1="3208.90" x2="479.31" y2="3220.40" stroke="#000" stroke-width="2.0"/>
<line x1="505.97" y1="3208.90" x2="505.97" y2="3220.40" stroke="#000" stroke-width="2.0"/>
<line x1="532.62" y1="3208.90" x2="532.62" y2="3233.90" stroke="#000" stroke-width="2.0"/>
<line x1="559.28" y1="3208.90" x2="559.28" y2="3220.40" stroke="#000" stroke-width="2.0"/>
<line x1="585.94" y1="3208.90" x2="585.94" y2="3220.40" stroke="#000" stroke-width="2.0"/>
<line x1="612.59" y1="3208.90" x2="612.59" y2="3220.40" stroke="#000" stroke-width="2.0"/>
<line x1="639.25" y1="3208.90" x2="639.25" y2="3220.40" stroke="#000" stroke-width="2.0"/>
<line x1="665.90" y1="3208.90" x2="665.90" y2="3233.90" stroke="#000" stroke-width="2.0"/>
<line x1="692.56" y1="3208.90" x2="692.56" y2="3220.40" stroke="#000" stroke-width="2.0"/>
<line x1="719.21" y1="3208.90" x2="719.21" y2="3220.40" stroke="#000" stroke-width="2.0"/>
<line x1="745.87" y1="3208.90" x2="745.87" y2="3220.40" stroke="#000" stroke-width="2.0"/>
<line x1="772.52" y1="3208.90" x2="772.52" y2="3220.40" stroke="#000" stroke-width="2.0"/>
<line x1="799.17" y1="3208.90" x2="799.17" y2="3233.90" stroke="#000" stroke-width="2.0"/>
<line x1="825.83" y1="3208.90" x2="825.83" y2="3220.40" stroke="#000" stroke-width="2.0"/>
<line x1="852.49" y1="3208.90" x2="852.49" y2="3220.40" stroke="#000" stroke-width="2.0"/>
<line x1="879.14" y1="3208.90" x2="879.14" y2="3220.40" stroke="#000" stroke-width="2.0"/>
<line x1="905.80" y1="3208.90" x2="905.80" y2="3220.40" stroke="#000" stroke-width="2.0"/>
<line x1="932.45" y1="3208.90" x2="932.45" y2="3233.90" stroke="#000" stroke-width="2.0"/>
<line x1="959.11" y1="3208.90" x2="959.11" y2="3220.40" stroke="#000" stroke-width="2.0"/>
<line x1="985.76" y1="3208.90" x2="985.76" y2="3220.40" stroke="#000" stroke-width="2.0"/>
<line x1="1012.41" y1="3208.90" x2="1012.41" y2="3220.40" stroke="#000" stroke-width="2.0"/>
<line x1="1039.07" y1="3208.90" x2="1039.07" y2="3220.40" stroke="#000" stroke-width="2.0"/>
<line x1="1065.72" y1="3208.90" x2="1065.72" y2="3233.90" stroke="#000" stroke-width="2.0"/>
<line x1="1092.38" y1="3208.90" x2="1092.38" y2="3220.40" stroke="#000" stroke-width="2.0"/>
<line x1="1119.04" y1="3208.90" x2="1119.04" y2="3220.40" stroke="#000" stroke-width="2.0"/>
<line x1="1145.69" y1="3208.90" x2="1145.69" y2="3220.40" stroke="#000" stroke-width="2.0"/>
<line x1="1172.35" y1="3208.90" x2="1172.35" y2="3220.40" stroke="#000" stroke-width="2.0"/>
<text transform="translate(228.35,3275.89) scale(1,1.0400)" font-size="46.00">160</text>
<text transform="translate(361.62,3275.89) scale(1,1.0400)" font-size="46.00">170</text>
<text transform="translate(494.90,3275.89) scale(1,1.0400)" font-size="46.00">180</text>
<text transform="translate(628.17,3275.89) scale(1,1.0400)" font-size="46.00">190</text>
<text transform="translate(762.04,3275.89) scale(1,1.0400)" font-size="46.00">200</text>
<text transform="translate(895.32,3275.89) scale(1,1.0400)" font-size="46.00">210</text>
<text transform="translate(1028.59,3275.89) scale(1,1.0400)" font-size="46.00">220</text>
<text transform="translate(30.01,2173.00) scale(1,1.0445)" font-size="45.92">Intensity, %</text>
<text transform="translate(569.64,3328.00) scale(1,0.9197)" font-size="49.11">m/z</text>
<text transform="translate(1094.21,2311.50) scale(1,1.0328)" font-size="102.32">D</text>
<text transform="translate(568.53,2376.00) scale(1,0.9598)" font-size="45.53">181.00</text>
<text transform="translate(663.51,3074.00) scale(1,1.0308)" font-size="45.87">195.00</text>
<line x1="147.50" y1="3208.90" x2="147.50" y2="3184.50" stroke="#000" stroke-width="2.0"/>
<line x1="200.00" y1="3208.90" x2="200.00" y2="3203.00" stroke="#000" stroke-width="2.0"/>
<line x1="221.00" y1="3208.90" x2="221.00" y2="3205.50" stroke="#000" stroke-width="2.0"/>
<line x1="307.50" y1="3208.90" x2="307.50" y2="3199.00" stroke="#000" stroke-width="2.0"/>
<line x1="325.00" y1="3208.90" x2="325.00" y2="3203.00" stroke="#000" stroke-width="2.0"/>
<line x1="375.00" y1="3208.90" x2="375.00" y2="3205.50" stroke="#000" stroke-width="2.0"/>
<line x1="392.50" y1="3208.90" x2="392.50" y2="3205.50" stroke="#000" stroke-width="2.0"/>
<line x1="414.00" y1="3208.90" x2="414.00" y2="3205.50" stroke="#000" stroke-width="2.0"/>
<line x1="457.50" y1="3208.90" x2="457.50" y2="3205.50" stroke="#000" stroke-width="2.0"/>
<line x1="537.90" y1="3208.90" x2="537.90" y2="3201.70" stroke="#000" stroke-width="2.0"/>
<line x1="546.50" y1="3208.90" x2="546.50" y2="2207.50" stroke="#000" stroke-width="2.0"/>
<line x1="561.20" y1="3208.90" x2="561.20" y2="3113.10" stroke="#000" stroke-width="2.0"/>
<line x1="572.00" y1="3208.90" x2="572.00" y2="3189.20" stroke="#000" stroke-width="2.0"/>
<line x1="610.00" y1="3208.90" x2="610.00" y2="3201.00" stroke="#000" stroke-width="2.0"/>
<line x1="631.00" y1="3208.90" x2="631.00" y2="3197.00" stroke="#000" stroke-width="2.0"/>
<line x1="635.00" y1="3208.90" x2="635.00" y2="3203.50" stroke="#000" stroke-width="2.0"/>
<line x1="679.50" y1="3208.90" x2="679.50" y2="3205.50" stroke="#000" stroke-width="2.0"/>
<line x1="726.00" y1="3208.90" x2="726.00" y2="3203.50" stroke="#000" stroke-width="2.0"/>
<line x1="732.50" y1="3208.90" x2="732.50" y2="3085.50" stroke="#000" stroke-width="2.0"/>
<line x1="743.50" y1="3208.90" x2="743.50" y2="3180.50" stroke="#000" stroke-width="2.0"/>
<line x1="766.50" y1="3208.90" x2="766.50" y2="3199.00" stroke="#000" stroke-width="2.0"/>
<line x1="787.50" y1="3208.90" x2="787.50" y2="3186.50" stroke="#000" stroke-width="2.0"/>
<line x1="798.50" y1="3208.90" x2="798.50" y2="3203.00" stroke="#000" stroke-width="2.0"/>
<line x1="812.50" y1="3208.90" x2="812.50" y2="3205.50" stroke="#000" stroke-width="2.0"/>
<line x1="825.00" y1="3208.90" x2="825.00" y2="3200.50" stroke="#000" stroke-width="2.0"/>
<line x1="859.00" y1="3208.90" x2="859.00" y2="3201.50" stroke="#000" stroke-width="2.0"/>
<line x1="880.00" y1="3208.90" x2="880.00" y2="3205.50" stroke="#000" stroke-width="2.0"/>
<line x1="920.00" y1="3208.90" x2="920.00" y2="3205.50" stroke="#000" stroke-width="2.0"/>
<line x1="950.00" y1="3208.90" x2="950.00" y2="3203.00" stroke="#000" stroke-width="2.0"/>
<line x1="960.00" y1="3208.90" x2="960.00" y2="3199.00" stroke="#000" stroke-width="2.0"/>
<line x1="998.50" y1="3208.90" x2="998.50" y2="3205.50" stroke="#000" stroke-width="2.0"/>
<line x1="1016.50" y1="3208.90" x2="1016.50" y2="3202.00" stroke="#000" stroke-width="2.0"/>
<line x1="1026.00" y1="3208.90" x2="1026.00" y2="3186.50" stroke="#000" stroke-width="2.0"/>
<line x1="1034.00" y1="3208.90" x2="1034.00" y2="3197.00" stroke="#000" stroke-width="2.0"/>
<line x1="1049.00" y1="3208.90" x2="1049.00" y2="3199.00" stroke="#000" stroke-width="2.0"/>
<line x1="1095.00" y1="3208.90" x2="1095.00" y2="3197.00" stroke="#000" stroke-width="2.0"/>
<line x1="1115.00" y1="3208.90" x2="1115.00" y2="3204.00" stroke="#000" stroke-width="2.0"/>
<line x1="1158.50" y1="3208.90" x2="1158.50" y2="3199.00" stroke="#000" stroke-width="2.0"/>
<line x1="1174.00" y1="3208.90" x2="1174.00" y2="3204.00" stroke="#000" stroke-width="2.0"/>
<line x1="1189.00" y1="3208.90" x2="1189.00" y2="3204.00" stroke="#000" stroke-width="2.0"/>
<rect x="1343.00" y="2205.50" width="1066.00" height="999.00" fill="none" stroke="#000" stroke-width="2.0"/>
<line x1="1317.00" y1="3204.50" x2="1343.00" y2="3204.50" stroke="#000" stroke-width="2.0"/>
<line x1="1331.50" y1="3194.51" x2="1343.00" y2="3194.51" stroke="#000" stroke-width="2.0"/>
<line x1="1331.50" y1="3184.52" x2="1343.00" y2="3184.52" stroke="#000" stroke-width="2.0"/>
<line x1="1331.50" y1="3174.53" x2="1343.00" y2="3174.53" stroke="#000" stroke-width="2.0"/>
<line x1="1331.50" y1="3164.54" x2="1343.00" y2="3164.54" stroke="#000" stroke-width="2.0"/>
<line x1="1326.00" y1="3154.55" x2="1343.00" y2="3154.55" stroke="#000" stroke-width="2.0"/>
<line x1="1331.50" y1="3144.56" x2="1343.00" y2="3144.56" stroke="#000" stroke-width="2.0"/>
<line x1="1331.50" y1="3134.57" x2="1343.00" y2="3134.57" stroke="#000" stroke-width="2.0"/>
<line x1="1331.50" y1="3124.58" x2="1343.00" y2="3124.58" stroke="#000" stroke-width="2.0"/>
<line x1="1331.50" y1="3114.59" x2="1343.00" y2="3114.59" stroke="#000" stroke-width="2.0"/>
<line x1="1317.00" y1="3104.60" x2="1343.00" y2="3104.60" stroke="#000" stroke-width="2.0"/>
<line x1="1331.50" y1="3094.61" x2="1343.00" y2="3094.61" stroke="#000" stroke-width="2.0"/>
<line x1="1331.50" y1="3084.62" x2="1343.00" y2="3084.62" stroke="#000" stroke-width="2.0"/>
<line x1="1331.50" y1="3074.63" x2="1343.00" y2="3074.63" stroke="#000" stroke-width="2.0"/>
<line x1="1331.50" y1="3064.64" x2="1343.00" y2="3064.64" stroke="#000" stroke-width="2.0"/>
<line x1="1326.00" y1="3054.65" x2="1343.00" y2="3054.65" stroke="#000" stroke-width="2.0"/>
<line x1="1331.50" y1="3044.66" x2="1343.00" y2="3044.66" stroke="#000" stroke-width="2.0"/>
<line x1="1331.50" y1="3034.67" x2="1343.00" y2="3034.67" stroke="#000" stroke-width="2.0"/>
<line x1="1331.50" y1="3024.68" x2="1343.00" y2="3024.68" stroke="#000" stroke-width="2.0"/>
<line x1="1331.50" y1="3014.69" x2="1343.00" y2="3014.69" stroke="#000" stroke-width="2.0"/>
<line x1="1317.00" y1="3004.70" x2="1343.00" y2="3004.70" stroke="#000" stroke-width="2.0"/>
<line x1="1331.50" y1="2994.71" x2="1343.00" y2="2994.71" stroke="#000" stroke-width="2.0"/>
<line x1="1331.50" y1="2984.72" x2="1343.00" y2="2984.72" stroke="#000" stroke-width="2.0"/>
<line x1="1331.50" y1="2974.73" x2="1343.00" y2="2974.73" stroke="#000" stroke-width="2.0"/>
<line x1="1331.50" y1="2964.74" x2="1343.00" y2="2964.74" stroke="#000" stroke-width="2.0"/>
<line x1="1326.00" y1="2954.75" x2="1343.00" y2="2954.75" stroke="#000" stroke-width="2.0"/>
<line x1="1331.50" y1="2944.76" x2="1343.00" y2="2944.76" stroke="#000" stroke-width="2.0"/>
<line x1="1331.50" y1="2934.77" x2="1343.00" y2="2934.77" stroke="#000" stroke-width="2.0"/>
<line x1="1331.50" y1="2924.78" x2="1343.00" y2="2924.78" stroke="#000" stroke-width="2.0"/>
<line x1="1331.50" y1="2914.79" x2="1343.00" y2="2914.79" stroke="#000" stroke-width="2.0"/>
<line x1="1317.00" y1="2904.80" x2="1343.00" y2="2904.80" stroke="#000" stroke-width="2.0"/>
<line x1="1331.50" y1="2894.81" x2="1343.00" y2="2894.81" stroke="#000" stroke-width="2.0"/>
<line x1="1331.50" y1="2884.82" x2="1343.00" y2="2884.82" stroke="#000" stroke-width="2.0"/>
<line x1="1331.50" y1="2874.83" x2="1343.00" y2="2874.83" stroke="#000" stroke-width="2.0"/>
<line x1="1331.50" y1="2864.84" x2="1343.00" y2="2864.84" stroke="#000" stroke-width="2.0"/>
<line x1="1326.00" y1="2854.85" x2="1343.00" y2="2854.85" stroke="#000" stroke-width="2.0"/>
<line x1="1331.50" y1="2844.86" x2="1343.00" y2="2844.86" stroke="#000" stroke-width="2.0"/>
<line x1="1331.50" y1="2834.87" x2="1343.00" y2="2834.87" stroke="#000" stroke-width="2.0"/>
<line x1="1331.50" y1="2824.88" x2="1343.00" y2="2824.88" stroke="#000" stroke-width="2.0"/>
<line x1="1331.50" y1="2814.89" x2="1343.00" y2="2814.89" stroke="#000" stroke-width="2.0"/>
<line x1="1317.00" y1="2804.90" x2="1343.00" y2="2804.90" stroke="#000" stroke-width="2.0"/>
<line x1="1331.50" y1="2794.91" x2="1343.00" y2="2794.91" stroke="#000" stroke-width="2.0"/>
<line x1="1331.50" y1="2784.92" x2="1343.00" y2="2784.92" stroke="#000" stroke-width="2.0"/>
<line x1="1331.50" y1="2774.93" x2="1343.00" y2="2774.93" stroke="#000" stroke-width="2.0"/>
<line x1="1331.50" y1="2764.94" x2="1343.00" y2="2764.94" stroke="#000" stroke-width="2.0"/>
<line x1="1326.00" y1="2754.95" x2="1343.00" y2="2754.95" stroke="#000" stroke-width="2.0"/>
<line x1="1331.50" y1="2744.96" x2="1343.00" y2="2744.96" stroke="#000" stroke-width="2.0"/>
<line x1="1331.50" y1="2734.97" x2="1343.00" y2="2734.97" stroke="#000" stroke-width="2.0"/>
<line x1="1331.50" y1="2724.98" x2="1343.00" y2="2724.98" stroke="#000" stroke-width="2.0"/>
<line x1="1331.50" y1="2714.99" x2="1343.00" y2="2714.99" stroke="#000" stroke-width="2.0"/>
<line x1="1317.00" y1="2705.00" x2="1343.00" y2="2705.00" stroke="#000" stroke-width="2.0"/>
<line x1="1331.50" y1="2695.01" x2="1343.00" y2="2695.01" stroke="#000" stroke-width="2.0"/>
<line x1="1331.50" y1="2685.02" x2="1343.00" y2="2685.02" stroke="#000" stroke-width="2.0"/>
<line x1="1331.50" y1="2675.03" x2="1343.00" y2="2675.03" stroke="#000" stroke-width="2.0"/>
<line x1="1331.50" y1="2665.04" x2="1343.00" y2="2665.04" stroke="#000" stroke-width="2.0"/>
<line x1="1326.00" y1="2655.05" x2="1343.00" y2="2655.05" stroke="#000" stroke-width="2.0"/>
<line x1="1331.50" y1="2645.06" x2="1343.00" y2="2645.06" stroke="#000" stroke-width="2.0"/>
<line x1="1331.50" y1="2635.07" x2="1343.00" y2="2635.07" stroke="#000" stroke-width="2.0"/>
<line x1="1331.50" y1="2625.08" x2="1343.00" y2="2625.08" stroke="#000" stroke-width="2.0"/>
<line x1="1331.50" y1="2615.09" x2="1343.00" y2="2615.09" stroke="#000" stroke-width="2.0"/>
<line x1="1317.00" y1="2605.10" x2="1343.00" y2="2605.10" stroke="#000" stroke-width="2.0"/>
<line x1="1331.50" y1="2595.11" x2="1343.00" y2="2595.11" stroke="#000" stroke-width="2.0"/>
<line x1="1331.50" y1="2585.12" x2="1343.00" y2="2585.12" stroke="#000" stroke-width="2.0"/>
<line x1="1331.50" y1="2575.13" x2="1343.00" y2="2575.13" stroke="#000" stroke-width="2.0"/>
<line x1="1331.50" y1="2565.14" x2="1343.00" y2="2565.14" stroke="#000" stroke-width="2.0"/>
<line x1="1326.00" y1="2555.15" x2="1343.00" y2="2555.15" stroke="#000" stroke-width="2.0"/>
<line x1="1331.50" y1="2545.16" x2="1343.00" y2="2545.16" stroke="#000" stroke-width="2.0"/>
<line x1="1331.50" y1="2535.17" x2="1343.00" y2="2535.17" stroke="#000" stroke-width="2.0"/>
<line x1="1331.50" y1="2525.18" x2="1343.00" y2="2525.18" stroke="#000" stroke-width="2.0"/>
<line x1="1331.50" y1="2515.19" x2="1343.00" y2="2515.19" stroke="#000" stroke-width="2.0"/>
<line x1="1317.00" y1="2505.20" x2="1343.00" y2="2505.20" stroke="#000" stroke-width="2.0"/>
<line x1="1331.50" y1="2495.21" x2="1343.00" y2="2495.21" stroke="#000" stroke-width="2.0"/>
<line x1="1331.50" y1="2485.22" x2="1343.00" y2="2485.22" stroke="#000" stroke-width="2.0"/>
<line x1="1331.50" y1="2475.23" x2="1343.00" y2="2475.23" stroke="#000" stroke-width="2.0"/>
<line x1="1331.50" y1="2465.24" x2="1343.00" y2="2465.24" stroke="#000" stroke-width="2.0"/>
<line x1="1326.00" y1="2455.25" x2="1343.00" y2="2455.25" stroke="#000" stroke-width="2.0"/>
<line x1="1331.50" y1="2445.26" x2="1343.00" y2="2445.26" stroke="#000" stroke-width="2.0"/>
<line x1="1331.50" y1="2435.27" x2="1343.00" y2="2435.27" stroke="#000" stroke-width="2.0"/>
<line x1="1331.50" y1="2425.28" x2="1343.00" y2="2425.28" stroke="#000" stroke-width="2.0"/>
<line x1="1331.50" y1="2415.29" x2="1343.00" y2="2415.29" stroke="#000" stroke-width="2.0"/>
<line x1="1317.00" y1="2405.30" x2="1343.00" y2="2405.30" stroke="#000" stroke-width="2.0"/>
<line x1="1331.50" y1="2395.31" x2="1343.00" y2="2395.31" stroke="#000" stroke-width="2.0"/>
<line x1="1331.50" y1="2385.32" x2="1343.00" y2="2385.32" stroke="#000" stroke-width="2.0"/>
<line x1="1331.50" y1="2375.33" x2="1343.00" y2="2375.33" stroke="#000" stroke-width="2.0"/>
<line x1="1331.50" y1="2365.34" x2="1343.00" y2="2365.34" stroke="#000" stroke-width="2.0"/>
<line x1="1326.00" y1="2355.35" x2="1343.00" y2="2355.35" stroke="#000" stroke-width="2.0"/>
<line x1="1331.50" y1="2345.36" x2="1343.00" y2="2345.36" stroke="#000" stroke-width="2.0"/>
<line x1="1331.50" y1="2335.37" x2="1343.00" y2="2335.37" stroke="#000" stroke-width="2.0"/>
<line x1="1331.50" y1="2325.38" x2="1343.00" y2="2325.38" stroke="#000" stroke-width="2.0"/>
<line x1="1331.50" y1="2315.39" x2="1343.00" y2="2315.39" stroke="#000" stroke-width="2.0"/>
<line x1="1317.00" y1="2305.40" x2="1343.00" y2="2305.40" stroke="#000" stroke-width="2.0"/>
<line x1="1331.50" y1="2295.41" x2="1343.00" y2="2295.41" stroke="#000" stroke-width="2.0"/>
<line x1="1331.50" y1="2285.42" x2="1343.00" y2="2285.42" stroke="#000" stroke-width="2.0"/>
<line x1="1331.50" y1="2275.43" x2="1343.00" y2="2275.43" stroke="#000" stroke-width="2.0"/>
<line x1="1331.50" y1="2265.44" x2="1343.00" y2="2265.44" stroke="#000" stroke-width="2.0"/>
<line x1="1326.00" y1="2255.45" x2="1343.00" y2="2255.45" stroke="#000" stroke-width="2.0"/>
<line x1="1331.50" y1="2245.46" x2="1343.00" y2="2245.46" stroke="#000" stroke-width="2.0"/>
<line x1="1331.50" y1="2235.47" x2="1343.00" y2="2235.47" stroke="#000" stroke-width="2.0"/>
<line x1="1331.50" y1="2225.48" x2="1343.00" y2="2225.48" stroke="#000" stroke-width="2.0"/>
<line x1="1331.50" y1="2215.49" x2="1343.00" y2="2215.49" stroke="#000" stroke-width="2.0"/>
<line x1="1317.00" y1="2205.50" x2="1343.00" y2="2205.50" stroke="#000" stroke-width="2.0"/>
<text transform="translate(1265.93,3121.30) scale(1,1.0400)" font-size="46.00">10</text>
<text transform="translate(1265.93,3021.40) scale(1,1.0400)" font-size="46.00">20</text>
<text transform="translate(1265.93,2921.50) scale(1,1.0400)" font-size="46.00">30</text>
<text transform="translate(1265.93,2821.60) scale(1,1.0400)" font-size="46.00">40</text>
<text transform="translate(1265.93,2721.70) scale(1,1.0400)" font-size="46.00">50</text>
<text transform="translate(1265.93,2621.80) scale(1,1.0400)" font-size="46.00">60</text>
<text transform="translate(1265.93,2521.90) scale(1,1.0400)" font-size="46.00">70</text>
<text transform="translate(1265.93,2422.00) scale(1,1.0400)" font-size="46.00">80</text>
<text transform="translate(1265.93,2322.10) scale(1,1.0400)" font-size="46.00">90</text>
<text transform="translate(1240.35,2222.20) scale(1,1.0400)" font-size="46.00">100</text>
<line x1="1364.32" y1="3204.50" x2="1364.32" y2="3216.50" stroke="#000" stroke-width="2.0"/>
<line x1="1385.64" y1="3204.50" x2="1385.64" y2="3216.50" stroke="#000" stroke-width="2.0"/>
<line x1="1406.96" y1="3204.50" x2="1406.96" y2="3216.50" stroke="#000" stroke-width="2.0"/>
<line x1="1428.28" y1="3204.50" x2="1428.28" y2="3216.50" stroke="#000" stroke-width="2.0"/>
<line x1="1449.60" y1="3204.50" x2="1449.60" y2="3229.50" stroke="#000" stroke-width="2.0"/>
<line x1="1470.92" y1="3204.50" x2="1470.92" y2="3216.50" stroke="#000" stroke-width="2.0"/>
<line x1="1492.24" y1="3204.50" x2="1492.24" y2="3216.50" stroke="#000" stroke-width="2.0"/>
<line x1="1513.56" y1="3204.50" x2="1513.56" y2="3216.50" stroke="#000" stroke-width="2.0"/>
<line x1="1534.88" y1="3204.50" x2="1534.88" y2="3216.50" stroke="#000" stroke-width="2.0"/>
<line x1="1556.20" y1="3204.50" x2="1556.20" y2="3229.50" stroke="#000" stroke-width="2.0"/>
<line x1="1577.52" y1="3204.50" x2="1577.52" y2="3216.50" stroke="#000" stroke-width="2.0"/>
<line x1="1598.84" y1="3204.50" x2="1598.84" y2="3216.50" stroke="#000" stroke-width="2.0"/>
<line x1="1620.16" y1="3204.50" x2="1620.16" y2="3216.50" stroke="#000" stroke-width="2.0"/>
<line x1="1641.48" y1="3204.50" x2="1641.48" y2="3216.50" stroke="#000" stroke-width="2.0"/>
<line x1="1662.80" y1="3204.50" x2="1662.80" y2="3229.50" stroke="#000" stroke-width="2.0"/>
<line x1="1684.12" y1="3204.50" x2="1684.12" y2="3216.50" stroke="#000" stroke-width="2.0"/>
<line x1="1705.44" y1="3204.50" x2="1705.44" y2="3216.50" stroke="#000" stroke-width="2.0"/>
<line x1="1726.76" y1="3204.50" x2="1726.76" y2="3216.50" stroke="#000" stroke-width="2.0"/>
<line x1="1748.08" y1="3204.50" x2="1748.08" y2="3216.50" stroke="#000" stroke-width="2.0"/>
<line x1="1769.40" y1="3204.50" x2="1769.40" y2="3229.50" stroke="#000" stroke-width="2.0"/>
<line x1="1790.72" y1="3204.50" x2="1790.72" y2="3216.50" stroke="#000" stroke-width="2.0"/>
<line x1="1812.04" y1="3204.50" x2="1812.04" y2="3216.50" stroke="#000" stroke-width="2.0"/>
<line x1="1833.36" y1="3204.50" x2="1833.36" y2="3216.50" stroke="#000" stroke-width="2.0"/>
<line x1="1854.68" y1="3204.50" x2="1854.68" y2="3216.50" stroke="#000" stroke-width="2.0"/>
<line x1="1876.00" y1="3204.50" x2="1876.00" y2="3229.50" stroke="#000" stroke-width="2.0"/>
<line x1="1897.32" y1="3204.50" x2="1897.32" y2="3216.50" stroke="#000" stroke-width="2.0"/>
<line x1="1918.64" y1="3204.50" x2="1918.64" y2="3216.50" stroke="#000" stroke-width="2.0"/>
<line x1="1939.96" y1="3204.50" x2="1939.96" y2="3216.50" stroke="#000" stroke-width="2.0"/>
<line x1="1961.28" y1="3204.50" x2="1961.28" y2="3216.50" stroke="#000" stroke-width="2.0"/>
<line x1="1982.60" y1="3204.50" x2="1982.60" y2="3229.50" stroke="#000" stroke-width="2.0"/>
<line x1="2003.92" y1="3204.50" x2="2003.92" y2="3216.50" stroke="#000" stroke-width="2.0"/>
<line x1="2025.24" y1="3204.50" x2="2025.24" y2="3216.50" stroke="#000" stroke-width="2.0"/>
<line x1="2046.56" y1="3204.50" x2="2046.56" y2="3216.50" stroke="#000" stroke-width="2.0"/>
<line x1="2067.88" y1="3204.50" x2="2067.88" y2="3216.50" stroke="#000" stroke-width="2.0"/>
<line x1="2089.20" y1="3204.50" x2="2089.20" y2="3229.50" stroke="#000" stroke-width="2.0"/>
<line x1="2110.52" y1="3204.50" x2="2110.52" y2="3216.50" stroke="#000" stroke-width="2.0"/>
<line x1="2131.84" y1="3204.50" x2="2131.84" y2="3216.50" stroke="#000" stroke-width="2.0"/>
<line x1="2153.16" y1="3204.50" x2="2153.16" y2="3216.50" stroke="#000" stroke-width="2.0"/>
<line x1="2174.48" y1="3204.50" x2="2174.48" y2="3216.50" stroke="#000" stroke-width="2.0"/>
<line x1="2195.80" y1="3204.50" x2="2195.80" y2="3229.50" stroke="#000" stroke-width="2.0"/>
<line x1="2217.12" y1="3204.50" x2="2217.12" y2="3216.50" stroke="#000" stroke-width="2.0"/>
<line x1="2238.44" y1="3204.50" x2="2238.44" y2="3216.50" stroke="#000" stroke-width="2.0"/>
<line x1="2259.76" y1="3204.50" x2="2259.76" y2="3216.50" stroke="#000" stroke-width="2.0"/>
<line x1="2281.08" y1="3204.50" x2="2281.08" y2="3216.50" stroke="#000" stroke-width="2.0"/>
<line x1="2302.40" y1="3204.50" x2="2302.40" y2="3229.50" stroke="#000" stroke-width="2.0"/>
<line x1="2323.72" y1="3204.50" x2="2323.72" y2="3216.50" stroke="#000" stroke-width="2.0"/>
<line x1="2345.04" y1="3204.50" x2="2345.04" y2="3216.50" stroke="#000" stroke-width="2.0"/>
<line x1="2366.36" y1="3204.50" x2="2366.36" y2="3216.50" stroke="#000" stroke-width="2.0"/>
<line x1="2387.68" y1="3204.50" x2="2387.68" y2="3216.50" stroke="#000" stroke-width="2.0"/>
<text transform="translate(1413.44,3273.89) scale(1,1.0400)" font-size="46.00">145</text>
<text transform="translate(1519.97,3273.89) scale(1,1.0400)" font-size="46.00">150</text>
<text transform="translate(1626.64,3273.89) scale(1,1.0400)" font-size="46.00">155</text>
<text transform="translate(1733.17,3273.89) scale(1,1.0400)" font-size="46.00">160</text>
<text transform="translate(1839.84,3273.89) scale(1,1.0400)" font-size="46.00">165</text>
<text transform="translate(1946.37,3273.89) scale(1,1.0400)" font-size="46.00">170</text>
<text transform="translate(2053.04,3273.89) scale(1,1.0400)" font-size="46.00">175</text>
<text transform="translate(2159.57,3273.89) scale(1,1.0400)" font-size="46.00">180</text>
<text transform="translate(2266.24,3273.89) scale(1,1.0400)" font-size="46.00">185</text>
<text transform="translate(1238.74,2171.00) scale(1,1.0400)" font-size="46.12">Intensity, %</text>
<text transform="translate(1813.64,3319.70) scale(1,0.9361)" font-size="49.04">m/z</text>
<text transform="translate(2318.76,2305.80) scale(1,1.0480)" font-size="101.66">E</text>
<text transform="translate(1817.03,2377.50) scale(1,0.9274)" font-size="45.57">161.05</text>
<line x1="1370.00" y1="3204.50" x2="1370.00" y2="3196.50" stroke="#000" stroke-width="2.0"/>
<line x1="1581.50" y1="3204.50" x2="1581.50" y2="3200.50" stroke="#000" stroke-width="2.0"/>
<line x1="1636.50" y1="3204.50" x2="1636.50" y2="3197.00" stroke="#000" stroke-width="2.0"/>
<line x1="1725.50" y1="3204.50" x2="1725.50" y2="3200.50" stroke="#000" stroke-width="2.0"/>
<line x1="1779.50" y1="3204.50" x2="1779.50" y2="3201.50" stroke="#000" stroke-width="2.0"/>
<line x1="1792.50" y1="3204.50" x2="1792.50" y2="2205.50" stroke="#000" stroke-width="2.0"/>
<line x1="1815.50" y1="3204.50" x2="1815.50" y2="3053.00" stroke="#000" stroke-width="2.0"/>
<line x1="1828.00" y1="3204.50" x2="1828.00" y2="3186.50" stroke="#000" stroke-width="2.0"/>
<line x1="1854.00" y1="3204.50" x2="1854.00" y2="3200.50" stroke="#000" stroke-width="2.0"/>
<line x1="1878.00" y1="3204.50" x2="1878.00" y2="3199.00" stroke="#000" stroke-width="2.0"/>
<line x1="1936.50" y1="3204.50" x2="1936.50" y2="3199.00" stroke="#000" stroke-width="2.0"/>
<line x1="1991.50" y1="3204.50" x2="1991.50" y2="3194.50" stroke="#000" stroke-width="2.0"/>
<line x1="2069.50" y1="3204.50" x2="2069.50" y2="3200.50" stroke="#000" stroke-width="2.0"/>
<line x1="2174.50" y1="3204.50" x2="2174.50" y2="3169.50" stroke="#000" stroke-width="2.0"/>
<line x1="2197.00" y1="3204.50" x2="2197.00" y2="3199.00" stroke="#000" stroke-width="2.0"/>
<line x1="2213.00" y1="3204.50" x2="2213.00" y2="3201.50" stroke="#000" stroke-width="2.0"/>
<line x1="2354.50" y1="3204.50" x2="2354.50" y2="3193.00" stroke="#000" stroke-width="2.0"/>
</svg>
</body></html>
